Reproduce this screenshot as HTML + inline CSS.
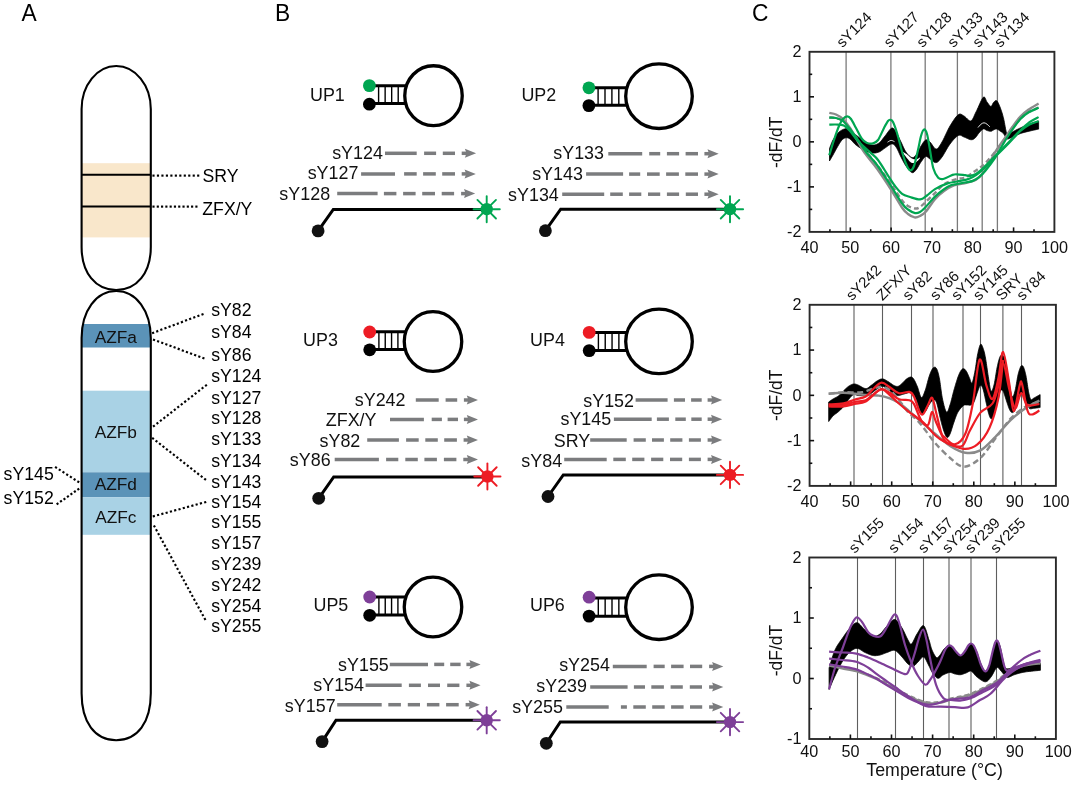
<!DOCTYPE html><html><head><meta charset="utf-8"><style>html,body{margin:0;padding:0;background:#fff;}svg{display:block;will-change:transform;}text{font-family:"Liberation Sans", sans-serif;}</style></head><body>
<svg width="1080" height="793" viewBox="0 0 1080 793">
<rect width="1080" height="793" fill="#fff"/>
<text x="0" y="0" font-size="22.8" fill="#000" transform="translate(21.5,20.8) scale(1,1.035)">A</text>
<text x="0" y="0" font-size="22.8" fill="#000" transform="translate(275,21.1) scale(1,1.035)">B</text>
<text x="0" y="0" font-size="22.8" fill="#000" transform="translate(751.9,21.2) scale(1,1.035)">C</text>
<defs><clipPath id="ctop"><path d="M81.6,109 L81.6,247 C81.6,272.8 95.44,290 116.2,290 C136.96,290 150.8,272.8 150.8,247 L150.8,109 C150.8,85.25 135.31,66 116.2,66 C97.09,66 81.6,85.25 81.6,109 Z"/></clipPath><clipPath id="cbot"><path d="M81.6,338 L81.6,693.2 C81.6,722.34 94.75,740.2 116.2,740.2 C137.65,740.2 150.8,722.34 150.8,693.2 L150.8,338 C150.8,310.74 136.27,291 116.2,291 C96.13,291 81.6,310.74 81.6,338 Z"/></clipPath></defs>
<path d="M81.6,109 L81.6,247 C81.6,272.8 95.44,290 116.2,290 C136.96,290 150.8,272.8 150.8,247 L150.8,109 C150.8,85.25 135.31,66 116.2,66 C97.09,66 81.6,85.25 81.6,109 Z" fill="#fff"/>
<path d="M81.6,338 L81.6,693.2 C81.6,722.34 94.75,740.2 116.2,740.2 C137.65,740.2 150.8,722.34 150.8,693.2 L150.8,338 C150.8,310.74 136.27,291 116.2,291 C96.13,291 81.6,310.74 81.6,338 Z" fill="#fff"/>
<g clip-path="url(#ctop)"><rect x="80" y="163.2" width="72" height="74.2" fill="#F9E7CB"/></g>
<g clip-path="url(#cbot)">
<rect x="80" y="324" width="72" height="23.5" fill="#5B93B8"/>
<rect x="80" y="390.7" width="72" height="81.6" fill="#A9D2E5"/>
<rect x="80" y="472.3" width="72" height="25" fill="#5B93B8"/>
<rect x="80" y="497.3" width="72" height="37.5" fill="#A9D2E5"/>
</g>
<line x1="81.6" y1="174.8" x2="150.8" y2="174.8" stroke="#000" stroke-width="2"/>
<line x1="81.6" y1="206.4" x2="150.8" y2="206.4" stroke="#000" stroke-width="2"/>
<path d="M81.6,109 L81.6,247 C81.6,272.8 95.44,290 116.2,290 C136.96,290 150.8,272.8 150.8,247 L150.8,109 C150.8,85.25 135.31,66 116.2,66 C97.09,66 81.6,85.25 81.6,109 Z" fill="none" stroke="#000" stroke-width="2.1"/>
<path d="M81.6,338 L81.6,693.2 C81.6,722.34 94.75,740.2 116.2,740.2 C137.65,740.2 150.8,722.34 150.8,693.2 L150.8,338 C150.8,310.74 136.27,291 116.2,291 C96.13,291 81.6,310.74 81.6,338 Z" fill="none" stroke="#000" stroke-width="2.1"/>
<text x="115.8" y="342.5" font-size="17.3" text-anchor="middle" fill="#111" >AZFa</text>
<text x="115.8" y="437.8" font-size="17.3" text-anchor="middle" fill="#111" >AZFb</text>
<text x="115.8" y="490.3" font-size="17.3" text-anchor="middle" fill="#111" >AZFd</text>
<text x="115.8" y="522.5" font-size="17.3" text-anchor="middle" fill="#111" >AZFc</text>
<g fill="#000"><rect x="152.43" y="174.53" width="2.15" height="2.15" transform="rotate(0 153.5 175.6)"/><rect x="156.9" y="174.53" width="2.15" height="2.15" transform="rotate(0 157.97 175.6)"/><rect x="161.37" y="174.53" width="2.15" height="2.15" transform="rotate(0 162.44 175.6)"/><rect x="165.84" y="174.53" width="2.15" height="2.15" transform="rotate(0 166.91 175.6)"/><rect x="170.31" y="174.53" width="2.15" height="2.15" transform="rotate(0 171.38 175.6)"/><rect x="174.78" y="174.53" width="2.15" height="2.15" transform="rotate(0 175.85 175.6)"/><rect x="179.25" y="174.53" width="2.15" height="2.15" transform="rotate(0 180.32 175.6)"/><rect x="183.72" y="174.53" width="2.15" height="2.15" transform="rotate(0 184.79 175.6)"/><rect x="188.19" y="174.53" width="2.15" height="2.15" transform="rotate(0 189.26 175.6)"/><rect x="192.66" y="174.53" width="2.15" height="2.15" transform="rotate(0 193.73 175.6)"/><rect x="197.12" y="174.53" width="2.15" height="2.15" transform="rotate(0 198.2 175.6)"/></g>
<g fill="#000"><rect x="152.43" y="205.53" width="2.15" height="2.15" transform="rotate(0 153.5 206.6)"/><rect x="156.72" y="205.53" width="2.15" height="2.15" transform="rotate(0 157.79 206.6)"/><rect x="161.01" y="205.53" width="2.15" height="2.15" transform="rotate(0 162.08 206.6)"/><rect x="165.3" y="205.53" width="2.15" height="2.15" transform="rotate(0 166.37 206.6)"/><rect x="169.59" y="205.53" width="2.15" height="2.15" transform="rotate(0 170.66 206.6)"/><rect x="173.88" y="205.53" width="2.15" height="2.15" transform="rotate(0 174.95 206.6)"/><rect x="178.17" y="205.53" width="2.15" height="2.15" transform="rotate(0 179.24 206.6)"/><rect x="182.46" y="205.53" width="2.15" height="2.15" transform="rotate(0 183.53 206.6)"/><rect x="186.75" y="205.53" width="2.15" height="2.15" transform="rotate(0 187.82 206.6)"/><rect x="191.04" y="205.53" width="2.15" height="2.15" transform="rotate(0 192.11 206.6)"/><rect x="195.33" y="205.53" width="2.15" height="2.15" transform="rotate(0 196.4 206.6)"/></g>
<text x="202.4" y="181.5" font-size="17.7" text-anchor="start" fill="#000" >SRY</text>
<text x="202.3" y="214.9" font-size="17.7" text-anchor="start" fill="#000" >ZFX/Y</text>
<g fill="#000"><rect x="152.03" y="331.73" width="2.15" height="2.15" transform="rotate(-20.53 153.1 332.8)"/><rect x="156.14" y="330.18" width="2.15" height="2.15" transform="rotate(-20.53 157.22 331.26)"/><rect x="160.26" y="328.64" width="2.15" height="2.15" transform="rotate(-20.53 161.33 329.72)"/><rect x="164.38" y="327.1" width="2.15" height="2.15" transform="rotate(-20.53 165.45 328.18)"/><rect x="168.49" y="325.56" width="2.15" height="2.15" transform="rotate(-20.53 169.57 326.63)"/><rect x="172.61" y="324.02" width="2.15" height="2.15" transform="rotate(-20.53 173.68 325.09)"/><rect x="176.73" y="322.48" width="2.15" height="2.15" transform="rotate(-20.53 177.8 323.55)"/><rect x="180.84" y="320.93" width="2.15" height="2.15" transform="rotate(-20.53 181.92 322.01)"/><rect x="184.96" y="319.39" width="2.15" height="2.15" transform="rotate(-20.53 186.03 320.47)"/><rect x="189.08" y="317.85" width="2.15" height="2.15" transform="rotate(-20.53 190.15 318.93)"/><rect x="193.19" y="316.31" width="2.15" height="2.15" transform="rotate(-20.53 194.27 317.38)"/><rect x="197.31" y="314.77" width="2.15" height="2.15" transform="rotate(-20.53 198.38 315.84)"/><rect x="201.43" y="313.23" width="2.15" height="2.15" transform="rotate(-20.53 202.5 314.3)"/></g>
<g fill="#000"><rect x="152.93" y="338.82" width="2.15" height="2.15" transform="rotate(20.22 154 339.9)"/><rect x="157.04" y="340.34" width="2.15" height="2.15" transform="rotate(20.22 158.12 341.42)"/><rect x="161.16" y="341.86" width="2.15" height="2.15" transform="rotate(20.22 162.23 342.93)"/><rect x="165.28" y="343.38" width="2.15" height="2.15" transform="rotate(20.22 166.35 344.45)"/><rect x="169.39" y="344.89" width="2.15" height="2.15" transform="rotate(20.22 170.47 345.97)"/><rect x="173.51" y="346.41" width="2.15" height="2.15" transform="rotate(20.22 174.58 347.48)"/><rect x="177.62" y="347.93" width="2.15" height="2.15" transform="rotate(20.22 178.7 349)"/><rect x="181.74" y="349.44" width="2.15" height="2.15" transform="rotate(20.22 182.82 350.52)"/><rect x="185.86" y="350.96" width="2.15" height="2.15" transform="rotate(20.22 186.93 352.03)"/><rect x="189.98" y="352.48" width="2.15" height="2.15" transform="rotate(20.22 191.05 353.55)"/><rect x="194.09" y="353.99" width="2.15" height="2.15" transform="rotate(20.22 195.17 355.07)"/><rect x="198.21" y="355.51" width="2.15" height="2.15" transform="rotate(20.22 199.28 356.58)"/><rect x="202.33" y="357.03" width="2.15" height="2.15" transform="rotate(20.22 203.4 358.1)"/></g>
<g fill="#000"><rect x="152.83" y="424.93" width="2.15" height="2.15" transform="rotate(-37.93 153.9 426)"/><rect x="156.3" y="422.22" width="2.15" height="2.15" transform="rotate(-37.93 157.37 423.29)"/><rect x="159.77" y="419.51" width="2.15" height="2.15" transform="rotate(-37.93 160.85 420.59)"/><rect x="163.25" y="416.81" width="2.15" height="2.15" transform="rotate(-37.93 164.32 417.88)"/><rect x="166.72" y="414.1" width="2.15" height="2.15" transform="rotate(-37.93 167.79 415.17)"/><rect x="170.19" y="411.39" width="2.15" height="2.15" transform="rotate(-37.93 171.27 412.47)"/><rect x="173.67" y="408.69" width="2.15" height="2.15" transform="rotate(-37.93 174.74 409.76)"/><rect x="177.14" y="405.98" width="2.15" height="2.15" transform="rotate(-37.93 178.21 407.05)"/><rect x="180.61" y="403.27" width="2.15" height="2.15" transform="rotate(-37.93 181.69 404.35)"/><rect x="184.09" y="400.56" width="2.15" height="2.15" transform="rotate(-37.93 185.16 401.64)"/><rect x="187.56" y="397.86" width="2.15" height="2.15" transform="rotate(-37.93 188.63 398.93)"/><rect x="191.03" y="395.15" width="2.15" height="2.15" transform="rotate(-37.93 192.11 396.23)"/><rect x="194.51" y="392.44" width="2.15" height="2.15" transform="rotate(-37.93 195.58 393.52)"/><rect x="197.98" y="389.74" width="2.15" height="2.15" transform="rotate(-37.93 199.05 390.81)"/><rect x="201.45" y="387.03" width="2.15" height="2.15" transform="rotate(-37.93 202.53 388.11)"/><rect x="204.93" y="384.32" width="2.15" height="2.15" transform="rotate(-37.93 206 385.4)"/></g>
<g fill="#000"><rect x="151.93" y="437.43" width="2.15" height="2.15" transform="rotate(38.06 153 438.5)"/><rect x="155.4" y="440.15" width="2.15" height="2.15" transform="rotate(38.06 156.47 441.22)"/><rect x="158.87" y="442.87" width="2.15" height="2.15" transform="rotate(38.06 159.95 443.94)"/><rect x="162.34" y="445.59" width="2.15" height="2.15" transform="rotate(38.06 163.42 446.66)"/><rect x="165.82" y="448.31" width="2.15" height="2.15" transform="rotate(38.06 166.89 449.38)"/><rect x="169.29" y="451.03" width="2.15" height="2.15" transform="rotate(38.06 170.37 452.1)"/><rect x="172.77" y="453.75" width="2.15" height="2.15" transform="rotate(38.06 173.84 454.82)"/><rect x="176.24" y="456.47" width="2.15" height="2.15" transform="rotate(38.06 177.31 457.54)"/><rect x="179.71" y="459.19" width="2.15" height="2.15" transform="rotate(38.06 180.79 460.26)"/><rect x="183.19" y="461.91" width="2.15" height="2.15" transform="rotate(38.06 184.26 462.98)"/><rect x="186.66" y="464.62" width="2.15" height="2.15" transform="rotate(38.06 187.73 465.7)"/><rect x="190.13" y="467.35" width="2.15" height="2.15" transform="rotate(38.06 191.21 468.42)"/><rect x="193.61" y="470.06" width="2.15" height="2.15" transform="rotate(38.06 194.68 471.14)"/><rect x="197.08" y="472.79" width="2.15" height="2.15" transform="rotate(38.06 198.15 473.86)"/><rect x="200.55" y="475.51" width="2.15" height="2.15" transform="rotate(38.06 201.63 476.58)"/><rect x="204.03" y="478.23" width="2.15" height="2.15" transform="rotate(38.06 205.1 479.3)"/></g>
<g fill="#000"><rect x="152.73" y="515.12" width="2.15" height="2.15" transform="rotate(-15.24 153.8 516.2)"/><rect x="157.01" y="513.96" width="2.15" height="2.15" transform="rotate(-15.24 158.08 515.03)"/><rect x="161.29" y="512.79" width="2.15" height="2.15" transform="rotate(-15.24 162.37 513.87)"/><rect x="165.58" y="511.63" width="2.15" height="2.15" transform="rotate(-15.24 166.65 512.7)"/><rect x="169.86" y="510.46" width="2.15" height="2.15" transform="rotate(-15.24 170.93 511.53)"/><rect x="174.14" y="509.29" width="2.15" height="2.15" transform="rotate(-15.24 175.22 510.37)"/><rect x="178.43" y="508.13" width="2.15" height="2.15" transform="rotate(-15.24 179.5 509.2)"/><rect x="182.71" y="506.96" width="2.15" height="2.15" transform="rotate(-15.24 183.78 508.03)"/><rect x="186.99" y="505.79" width="2.15" height="2.15" transform="rotate(-15.24 188.07 506.87)"/><rect x="191.28" y="504.62" width="2.15" height="2.15" transform="rotate(-15.24 192.35 505.7)"/><rect x="195.56" y="503.46" width="2.15" height="2.15" transform="rotate(-15.24 196.63 504.53)"/><rect x="199.84" y="502.29" width="2.15" height="2.15" transform="rotate(-15.24 200.92 503.37)"/><rect x="204.12" y="501.12" width="2.15" height="2.15" transform="rotate(-15.24 205.2 502.2)"/></g>
<g fill="#000"><rect x="153.33" y="525.32" width="2.15" height="2.15" transform="rotate(61.39 154.4 526.4)"/><rect x="155.43" y="529.18" width="2.15" height="2.15" transform="rotate(61.39 156.5 530.26)"/><rect x="157.53" y="533.04" width="2.15" height="2.15" transform="rotate(61.39 158.61 534.12)"/><rect x="159.64" y="536.9" width="2.15" height="2.15" transform="rotate(61.39 160.71 537.98)"/><rect x="161.74" y="540.76" width="2.15" height="2.15" transform="rotate(61.39 162.82 541.83)"/><rect x="163.85" y="544.62" width="2.15" height="2.15" transform="rotate(61.39 164.92 545.69)"/><rect x="165.95" y="548.47" width="2.15" height="2.15" transform="rotate(61.39 167.03 549.55)"/><rect x="168.05" y="552.33" width="2.15" height="2.15" transform="rotate(61.39 169.13 553.41)"/><rect x="170.16" y="556.19" width="2.15" height="2.15" transform="rotate(61.39 171.23 557.27)"/><rect x="172.26" y="560.05" width="2.15" height="2.15" transform="rotate(61.39 173.34 561.12)"/><rect x="174.37" y="563.91" width="2.15" height="2.15" transform="rotate(61.39 175.44 564.98)"/><rect x="176.47" y="567.77" width="2.15" height="2.15" transform="rotate(61.39 177.55 568.84)"/><rect x="178.58" y="571.62" width="2.15" height="2.15" transform="rotate(61.39 179.65 572.7)"/><rect x="180.68" y="575.48" width="2.15" height="2.15" transform="rotate(61.39 181.75 576.56)"/><rect x="182.78" y="579.34" width="2.15" height="2.15" transform="rotate(61.39 183.86 580.42)"/><rect x="184.89" y="583.2" width="2.15" height="2.15" transform="rotate(61.39 185.96 584.27)"/><rect x="186.99" y="587.06" width="2.15" height="2.15" transform="rotate(61.39 188.07 588.13)"/><rect x="189.1" y="590.92" width="2.15" height="2.15" transform="rotate(61.39 190.17 591.99)"/><rect x="191.2" y="594.77" width="2.15" height="2.15" transform="rotate(61.39 192.28 595.85)"/><rect x="193.3" y="598.63" width="2.15" height="2.15" transform="rotate(61.39 194.38 599.71)"/><rect x="195.41" y="602.49" width="2.15" height="2.15" transform="rotate(61.39 196.48 603.57)"/><rect x="197.51" y="606.35" width="2.15" height="2.15" transform="rotate(61.39 198.59 607.42)"/><rect x="199.62" y="610.21" width="2.15" height="2.15" transform="rotate(61.39 200.69 611.28)"/><rect x="201.72" y="614.07" width="2.15" height="2.15" transform="rotate(61.39 202.8 615.14)"/><rect x="203.83" y="617.92" width="2.15" height="2.15" transform="rotate(61.39 204.9 619)"/></g>
<g fill="#000"><rect x="54.92" y="466.43" width="2.15" height="2.15" transform="rotate(32.67 56 467.5)"/><rect x="58.64" y="468.81" width="2.15" height="2.15" transform="rotate(32.67 59.72 469.88)"/><rect x="62.36" y="471.19" width="2.15" height="2.15" transform="rotate(32.67 63.43 472.27)"/><rect x="66.08" y="473.57" width="2.15" height="2.15" transform="rotate(32.67 67.15 474.65)"/><rect x="69.79" y="475.96" width="2.15" height="2.15" transform="rotate(32.67 70.87 477.03)"/><rect x="73.51" y="478.34" width="2.15" height="2.15" transform="rotate(32.67 74.58 479.42)"/><rect x="77.22" y="480.73" width="2.15" height="2.15" transform="rotate(32.67 78.3 481.8)"/></g>
<g fill="#000"><rect x="56.42" y="502.68" width="2.15" height="2.15" transform="rotate(-34.97 57.5 503.75)"/><rect x="59.89" y="500.25" width="2.15" height="2.15" transform="rotate(-34.97 60.97 501.32)"/><rect x="63.36" y="497.82" width="2.15" height="2.15" transform="rotate(-34.97 64.43 498.9)"/><rect x="66.83" y="495.4" width="2.15" height="2.15" transform="rotate(-34.97 67.9 496.48)"/><rect x="70.29" y="492.98" width="2.15" height="2.15" transform="rotate(-34.97 71.37 494.05)"/><rect x="73.76" y="490.55" width="2.15" height="2.15" transform="rotate(-34.97 74.83 491.62)"/><rect x="77.22" y="488.12" width="2.15" height="2.15" transform="rotate(-34.97 78.3 489.2)"/></g>
<text x="211.2" y="315.6" font-size="17.7" text-anchor="start" fill="#000" >sY82</text>
<text x="211.2" y="338" font-size="17.7" text-anchor="start" fill="#000" >sY84</text>
<text x="211.2" y="360.7" font-size="17.7" text-anchor="start" fill="#000" >sY86</text>
<text x="211.2" y="382.4" font-size="17.7" text-anchor="start" fill="#000" >sY124</text>
<text x="211.2" y="403.6" font-size="17.7" text-anchor="start" fill="#000" >sY127</text>
<text x="211.2" y="424.4" font-size="17.7" text-anchor="start" fill="#000" >sY128</text>
<text x="211.2" y="445.2" font-size="17.7" text-anchor="start" fill="#000" >sY133</text>
<text x="211.2" y="466.6" font-size="17.7" text-anchor="start" fill="#000" >sY134</text>
<text x="211.2" y="487.5" font-size="17.7" text-anchor="start" fill="#000" >sY143</text>
<text x="211.2" y="508" font-size="17.7" text-anchor="start" fill="#000" >sY154</text>
<text x="211.2" y="528.2" font-size="17.7" text-anchor="start" fill="#000" >sY155</text>
<text x="211.2" y="548.9" font-size="17.7" text-anchor="start" fill="#000" >sY157</text>
<text x="211.2" y="569.7" font-size="17.7" text-anchor="start" fill="#000" >sY239</text>
<text x="211.2" y="590.5" font-size="17.7" text-anchor="start" fill="#000" >sY242</text>
<text x="211.2" y="611.5" font-size="17.7" text-anchor="start" fill="#000" >sY254</text>
<text x="211.2" y="632" font-size="17.7" text-anchor="start" fill="#000" >sY255</text>
<text x="3.6" y="480" font-size="17.7" text-anchor="start" fill="#000" >sY145</text>
<text x="3.6" y="503.6" font-size="17.7" text-anchor="start" fill="#000" >sY152</text>
<text x="310" y="100.6" font-size="17.9" text-anchor="start" fill="#111" >UP1</text>
<line x1="369.4" y1="85.8" x2="406.75" y2="85.8" stroke="#000" stroke-width="3"/>
<line x1="369.4" y1="103.6" x2="406.75" y2="103.6" stroke="#000" stroke-width="3"/>
<line x1="378.6" y1="85.8" x2="378.6" y2="103.6" stroke="#000" stroke-width="1.4"/>
<line x1="385.14" y1="85.8" x2="385.14" y2="103.6" stroke="#000" stroke-width="1.4"/>
<line x1="391.67" y1="85.8" x2="391.67" y2="103.6" stroke="#000" stroke-width="1.4"/>
<line x1="398.21" y1="85.8" x2="398.21" y2="103.6" stroke="#000" stroke-width="1.4"/>
<ellipse cx="433.5" cy="95.65" rx="28.75" ry="29.9" fill="none" stroke="#000" stroke-width="3.3"/>
<circle cx="369.4" cy="85.6" r="6.4" fill="#00A651"/>
<circle cx="369.4" cy="104.2" r="6.4" fill="#000"/>
<text x="382.9" y="158.9" font-size="17.9" text-anchor="end" fill="#111" >sY124</text>
<line x1="385" y1="153.3" x2="416.7" y2="153.3" stroke="#7b7c7e" stroke-width="3.5"/>
<line x1="424.1" y1="153.3" x2="436.1" y2="153.3" stroke="#7b7c7e" stroke-width="3.5"/>
<line x1="442.8" y1="153.3" x2="455" y2="153.3" stroke="#7b7c7e" stroke-width="3.5"/>
<line x1="461.7" y1="153.3" x2="467.1" y2="153.3" stroke="#7b7c7e" stroke-width="3.5"/>
<path d="M476.1,153.3 L464.9,148.8 L466.5,153.3 L464.9,157.8 Z" fill="#7b7c7e"/>
<text x="358.4" y="178.9" font-size="17.9" text-anchor="end" fill="#111" >sY127</text>
<line x1="361.1" y1="173.9" x2="395" y2="173.9" stroke="#7b7c7e" stroke-width="3.5"/>
<line x1="404.1" y1="173.9" x2="416.7" y2="173.9" stroke="#7b7c7e" stroke-width="3.5"/>
<line x1="423.1" y1="173.9" x2="435.8" y2="173.9" stroke="#7b7c7e" stroke-width="3.5"/>
<line x1="442.2" y1="173.9" x2="455" y2="173.9" stroke="#7b7c7e" stroke-width="3.5"/>
<line x1="461.7" y1="173.9" x2="466.8" y2="173.9" stroke="#7b7c7e" stroke-width="3.5"/>
<path d="M475.8,173.9 L464.6,169.4 L466.2,173.9 L464.6,178.4 Z" fill="#7b7c7e"/>
<text x="330.1" y="200.2" font-size="17.9" text-anchor="end" fill="#111" >sY128</text>
<line x1="337.2" y1="193.6" x2="377.6" y2="193.6" stroke="#7b7c7e" stroke-width="3.5"/>
<line x1="383.9" y1="193.6" x2="396.4" y2="193.6" stroke="#7b7c7e" stroke-width="3.5"/>
<line x1="403.1" y1="193.6" x2="415.6" y2="193.6" stroke="#7b7c7e" stroke-width="3.5"/>
<line x1="422.2" y1="193.6" x2="435" y2="193.6" stroke="#7b7c7e" stroke-width="3.5"/>
<line x1="441.7" y1="193.6" x2="454.1" y2="193.6" stroke="#7b7c7e" stroke-width="3.5"/>
<line x1="461.1" y1="193.6" x2="466.2" y2="193.6" stroke="#7b7c7e" stroke-width="3.5"/>
<path d="M475.2,193.6 L464,189.1 L465.6,193.6 L464,198.1 Z" fill="#7b7c7e"/>
<polyline points="318.1,230.9 333.3,209.4 486.7,209.4" fill="none" stroke="#000" stroke-width="3" stroke-linejoin="miter"/>
<circle cx="318.1" cy="230.9" r="6.4" fill="#111"/>
<line x1="486.7" y1="209.2" x2="499.8" y2="209.2" stroke="#00A651" stroke-width="1.9" stroke-linecap="round"/><line x1="486.7" y1="209.2" x2="495.96" y2="218.46" stroke="#00A651" stroke-width="1.9" stroke-linecap="round"/><line x1="486.7" y1="209.2" x2="486.7" y2="222.3" stroke="#00A651" stroke-width="1.9" stroke-linecap="round"/><line x1="486.7" y1="209.2" x2="477.44" y2="218.46" stroke="#00A651" stroke-width="1.9" stroke-linecap="round"/><line x1="486.7" y1="209.2" x2="473.6" y2="209.2" stroke="#00A651" stroke-width="1.9" stroke-linecap="round"/><line x1="486.7" y1="209.2" x2="477.44" y2="199.94" stroke="#00A651" stroke-width="1.9" stroke-linecap="round"/><line x1="486.7" y1="209.2" x2="486.7" y2="196.1" stroke="#00A651" stroke-width="1.9" stroke-linecap="round"/><line x1="486.7" y1="209.2" x2="495.96" y2="199.94" stroke="#00A651" stroke-width="1.9" stroke-linecap="round"/>
<circle cx="486.7" cy="209.2" r="6.2" fill="#00A651"/>
<text x="521.4" y="101" font-size="17.9" text-anchor="start" fill="#111" >UP2</text>
<line x1="588.9" y1="87.8" x2="627.7" y2="87.8" stroke="#000" stroke-width="3"/>
<line x1="588.9" y1="105.3" x2="627.7" y2="105.3" stroke="#000" stroke-width="3"/>
<line x1="598.1" y1="87.8" x2="598.1" y2="105.3" stroke="#000" stroke-width="1.4"/>
<line x1="605" y1="87.8" x2="605" y2="105.3" stroke="#000" stroke-width="1.4"/>
<line x1="611.9" y1="87.8" x2="611.9" y2="105.3" stroke="#000" stroke-width="1.4"/>
<line x1="618.8" y1="87.8" x2="618.8" y2="105.3" stroke="#000" stroke-width="1.4"/>
<ellipse cx="659" cy="96.2" rx="33.3" ry="32.3" fill="none" stroke="#000" stroke-width="3.3"/>
<circle cx="588.9" cy="87.8" r="6.4" fill="#00A651"/>
<circle cx="588.9" cy="105.6" r="6.4" fill="#000"/>
<text x="604" y="158.7" font-size="17.9" text-anchor="end" fill="#111" >sY133</text>
<line x1="608.3" y1="153.7" x2="642.2" y2="153.7" stroke="#7b7c7e" stroke-width="3.5"/>
<line x1="649.2" y1="153.7" x2="660.2" y2="153.7" stroke="#7b7c7e" stroke-width="3.5"/>
<line x1="666.9" y1="153.7" x2="679.1" y2="153.7" stroke="#7b7c7e" stroke-width="3.5"/>
<line x1="685.6" y1="153.7" x2="698" y2="153.7" stroke="#7b7c7e" stroke-width="3.5"/>
<line x1="704.4" y1="153.7" x2="709.7" y2="153.7" stroke="#7b7c7e" stroke-width="3.5"/>
<path d="M718.7,153.7 L707.5,149.2 L709.1,153.7 L707.5,158.2 Z" fill="#7b7c7e"/>
<text x="582.9" y="180.2" font-size="17.9" text-anchor="end" fill="#111" >sY143</text>
<line x1="586.1" y1="174.1" x2="623.1" y2="174.1" stroke="#7b7c7e" stroke-width="3.5"/>
<line x1="629.1" y1="174.1" x2="640.2" y2="174.1" stroke="#7b7c7e" stroke-width="3.5"/>
<line x1="647" y1="174.1" x2="659.7" y2="174.1" stroke="#7b7c7e" stroke-width="3.5"/>
<line x1="666.1" y1="174.1" x2="678.9" y2="174.1" stroke="#7b7c7e" stroke-width="3.5"/>
<line x1="685.3" y1="174.1" x2="698" y2="174.1" stroke="#7b7c7e" stroke-width="3.5"/>
<line x1="704.4" y1="174.1" x2="709.7" y2="174.1" stroke="#7b7c7e" stroke-width="3.5"/>
<path d="M718.7,174.1 L707.5,169.6 L709.1,174.1 L707.5,178.6 Z" fill="#7b7c7e"/>
<text x="558.8" y="200.8" font-size="17.9" text-anchor="end" fill="#111" >sY134</text>
<line x1="562.2" y1="194.2" x2="604.2" y2="194.2" stroke="#7b7c7e" stroke-width="3.5"/>
<line x1="610.2" y1="194.2" x2="622.8" y2="194.2" stroke="#7b7c7e" stroke-width="3.5"/>
<line x1="629.1" y1="194.2" x2="641.3" y2="194.2" stroke="#7b7c7e" stroke-width="3.5"/>
<line x1="648" y1="194.2" x2="660.2" y2="194.2" stroke="#7b7c7e" stroke-width="3.5"/>
<line x1="666.9" y1="194.2" x2="679.1" y2="194.2" stroke="#7b7c7e" stroke-width="3.5"/>
<line x1="685.8" y1="194.2" x2="698" y2="194.2" stroke="#7b7c7e" stroke-width="3.5"/>
<line x1="704.4" y1="194.2" x2="709.7" y2="194.2" stroke="#7b7c7e" stroke-width="3.5"/>
<path d="M718.7,194.2 L707.5,189.7 L709.1,194.2 L707.5,198.7 Z" fill="#7b7c7e"/>
<polyline points="545.4,230.7 560.7,209.2 730,209.2" fill="none" stroke="#000" stroke-width="3" stroke-linejoin="miter"/>
<circle cx="545.4" cy="230.7" r="6.4" fill="#111"/>
<line x1="730" y1="209.2" x2="743.1" y2="209.2" stroke="#00A651" stroke-width="1.9" stroke-linecap="round"/><line x1="730" y1="209.2" x2="739.26" y2="218.46" stroke="#00A651" stroke-width="1.9" stroke-linecap="round"/><line x1="730" y1="209.2" x2="730" y2="222.3" stroke="#00A651" stroke-width="1.9" stroke-linecap="round"/><line x1="730" y1="209.2" x2="720.74" y2="218.46" stroke="#00A651" stroke-width="1.9" stroke-linecap="round"/><line x1="730" y1="209.2" x2="716.9" y2="209.2" stroke="#00A651" stroke-width="1.9" stroke-linecap="round"/><line x1="730" y1="209.2" x2="720.74" y2="199.94" stroke="#00A651" stroke-width="1.9" stroke-linecap="round"/><line x1="730" y1="209.2" x2="730" y2="196.1" stroke="#00A651" stroke-width="1.9" stroke-linecap="round"/><line x1="730" y1="209.2" x2="739.26" y2="199.94" stroke="#00A651" stroke-width="1.9" stroke-linecap="round"/>
<circle cx="730" cy="209.2" r="6.2" fill="#00A651"/>
<text x="303.1" y="345.8" font-size="17.9" text-anchor="start" fill="#111" >UP3</text>
<line x1="369.7" y1="331.7" x2="406.25" y2="331.7" stroke="#000" stroke-width="3"/>
<line x1="369.7" y1="349.4" x2="406.25" y2="349.4" stroke="#000" stroke-width="3"/>
<line x1="378.9" y1="331.7" x2="378.9" y2="349.4" stroke="#000" stroke-width="1.4"/>
<line x1="385.24" y1="331.7" x2="385.24" y2="349.4" stroke="#000" stroke-width="1.4"/>
<line x1="391.57" y1="331.7" x2="391.57" y2="349.4" stroke="#000" stroke-width="1.4"/>
<line x1="397.91" y1="331.7" x2="397.91" y2="349.4" stroke="#000" stroke-width="1.4"/>
<ellipse cx="433" cy="341.5" rx="28.75" ry="29.9" fill="none" stroke="#000" stroke-width="3.3"/>
<circle cx="369.7" cy="332" r="6.4" fill="#ED1C24"/>
<circle cx="369.7" cy="349.8" r="6.4" fill="#000"/>
<text x="405.5" y="405.8" font-size="17.9" text-anchor="end" fill="#111" >sY242</text>
<line x1="415.8" y1="400" x2="438.7" y2="400" stroke="#7b7c7e" stroke-width="3.5"/>
<line x1="445.6" y1="400" x2="457.2" y2="400" stroke="#7b7c7e" stroke-width="3.5"/>
<line x1="463.9" y1="400" x2="469" y2="400" stroke="#7b7c7e" stroke-width="3.5"/>
<path d="M478,400 L466.8,395.5 L468.4,400 L466.8,404.5 Z" fill="#7b7c7e"/>
<text x="376.5" y="426.3" font-size="17.9" text-anchor="end" fill="#111" >ZFX/Y</text>
<line x1="390" y1="419.4" x2="423.9" y2="419.4" stroke="#7b7c7e" stroke-width="3.5"/>
<line x1="431.7" y1="419.4" x2="441.9" y2="419.4" stroke="#7b7c7e" stroke-width="3.5"/>
<line x1="447.6" y1="419.4" x2="458" y2="419.4" stroke="#7b7c7e" stroke-width="3.5"/>
<line x1="463.9" y1="419.4" x2="469" y2="419.4" stroke="#7b7c7e" stroke-width="3.5"/>
<path d="M478,419.4 L466.8,414.9 L468.4,419.4 L466.8,423.9 Z" fill="#7b7c7e"/>
<text x="360.3" y="446.7" font-size="17.9" text-anchor="end" fill="#111" >sY82</text>
<line x1="367.2" y1="440" x2="398.9" y2="440" stroke="#7b7c7e" stroke-width="3.5"/>
<line x1="406.1" y1="440" x2="418.7" y2="440" stroke="#7b7c7e" stroke-width="3.5"/>
<line x1="425.3" y1="440" x2="437.8" y2="440" stroke="#7b7c7e" stroke-width="3.5"/>
<line x1="444.2" y1="440" x2="456.9" y2="440" stroke="#7b7c7e" stroke-width="3.5"/>
<line x1="463.6" y1="440" x2="469" y2="440" stroke="#7b7c7e" stroke-width="3.5"/>
<path d="M478,440 L466.8,435.5 L468.4,440 L466.8,444.5 Z" fill="#7b7c7e"/>
<text x="330.6" y="466.1" font-size="17.9" text-anchor="end" fill="#111" >sY86</text>
<line x1="334.7" y1="459.5" x2="378.9" y2="459.5" stroke="#7b7c7e" stroke-width="3.5"/>
<line x1="386.1" y1="459.5" x2="398.3" y2="459.5" stroke="#7b7c7e" stroke-width="3.5"/>
<line x1="405.3" y1="459.5" x2="417.8" y2="459.5" stroke="#7b7c7e" stroke-width="3.5"/>
<line x1="424.4" y1="459.5" x2="436.9" y2="459.5" stroke="#7b7c7e" stroke-width="3.5"/>
<line x1="443.9" y1="459.5" x2="456.4" y2="459.5" stroke="#7b7c7e" stroke-width="3.5"/>
<line x1="463.3" y1="459.5" x2="469" y2="459.5" stroke="#7b7c7e" stroke-width="3.5"/>
<path d="M478,459.5 L466.8,455 L468.4,459.5 L466.8,464 Z" fill="#7b7c7e"/>
<polyline points="318.7,498.3 333.7,476.9 487.4,476.9" fill="none" stroke="#000" stroke-width="3" stroke-linejoin="miter"/>
<circle cx="318.7" cy="498.3" r="6.4" fill="#111"/>
<line x1="487.4" y1="476.5" x2="500.5" y2="476.5" stroke="#ED1C24" stroke-width="1.9" stroke-linecap="round"/><line x1="487.4" y1="476.5" x2="496.66" y2="485.76" stroke="#ED1C24" stroke-width="1.9" stroke-linecap="round"/><line x1="487.4" y1="476.5" x2="487.4" y2="489.6" stroke="#ED1C24" stroke-width="1.9" stroke-linecap="round"/><line x1="487.4" y1="476.5" x2="478.14" y2="485.76" stroke="#ED1C24" stroke-width="1.9" stroke-linecap="round"/><line x1="487.4" y1="476.5" x2="474.3" y2="476.5" stroke="#ED1C24" stroke-width="1.9" stroke-linecap="round"/><line x1="487.4" y1="476.5" x2="478.14" y2="467.24" stroke="#ED1C24" stroke-width="1.9" stroke-linecap="round"/><line x1="487.4" y1="476.5" x2="487.4" y2="463.4" stroke="#ED1C24" stroke-width="1.9" stroke-linecap="round"/><line x1="487.4" y1="476.5" x2="496.66" y2="467.24" stroke="#ED1C24" stroke-width="1.9" stroke-linecap="round"/>
<circle cx="487.4" cy="476.5" r="6.2" fill="#ED1C24"/>
<text x="530.1" y="345.8" font-size="17.9" text-anchor="start" fill="#111" >UP4</text>
<line x1="589.2" y1="332.6" x2="627.7" y2="332.6" stroke="#000" stroke-width="3"/>
<line x1="589.2" y1="350.6" x2="627.7" y2="350.6" stroke="#000" stroke-width="3"/>
<line x1="598.4" y1="332.6" x2="598.4" y2="350.6" stroke="#000" stroke-width="1.4"/>
<line x1="605.23" y1="332.6" x2="605.23" y2="350.6" stroke="#000" stroke-width="1.4"/>
<line x1="612.05" y1="332.6" x2="612.05" y2="350.6" stroke="#000" stroke-width="1.4"/>
<line x1="618.88" y1="332.6" x2="618.88" y2="350.6" stroke="#000" stroke-width="1.4"/>
<ellipse cx="659" cy="341.4" rx="33.3" ry="32.3" fill="none" stroke="#000" stroke-width="3.3"/>
<circle cx="589.2" cy="332.4" r="6.4" fill="#ED1C24"/>
<circle cx="589.2" cy="350.6" r="6.4" fill="#000"/>
<text x="634" y="407.2" font-size="17.9" text-anchor="end" fill="#111" >sY152</text>
<line x1="635.6" y1="400" x2="667.6" y2="400" stroke="#7b7c7e" stroke-width="3.5"/>
<line x1="673.9" y1="400" x2="685" y2="400" stroke="#7b7c7e" stroke-width="3.5"/>
<line x1="691.1" y1="400" x2="701.7" y2="400" stroke="#7b7c7e" stroke-width="3.5"/>
<line x1="707.6" y1="400" x2="713.2" y2="400" stroke="#7b7c7e" stroke-width="3.5"/>
<path d="M722.2,400 L711,395.5 L712.6,400 L711,404.5 Z" fill="#7b7c7e"/>
<text x="611.2" y="425.2" font-size="17.9" text-anchor="end" fill="#111" >sY145</text>
<line x1="613.9" y1="419.2" x2="651.7" y2="419.2" stroke="#7b7c7e" stroke-width="3.5"/>
<line x1="656.9" y1="419.2" x2="668.9" y2="419.2" stroke="#7b7c7e" stroke-width="3.5"/>
<line x1="675.3" y1="419.2" x2="685.8" y2="419.2" stroke="#7b7c7e" stroke-width="3.5"/>
<line x1="691.3" y1="419.2" x2="701.7" y2="419.2" stroke="#7b7c7e" stroke-width="3.5"/>
<line x1="707.6" y1="419.2" x2="713.2" y2="419.2" stroke="#7b7c7e" stroke-width="3.5"/>
<path d="M722.2,419.2 L711,414.7 L712.6,419.2 L711,423.7 Z" fill="#7b7c7e"/>
<text x="590.3" y="446.7" font-size="17.9" text-anchor="end" fill="#111" >SRY</text>
<line x1="590.2" y1="440" x2="626.7" y2="440" stroke="#7b7c7e" stroke-width="3.5"/>
<line x1="633.6" y1="440" x2="645.8" y2="440" stroke="#7b7c7e" stroke-width="3.5"/>
<line x1="652" y1="440" x2="663.9" y2="440" stroke="#7b7c7e" stroke-width="3.5"/>
<line x1="670.2" y1="440" x2="682.4" y2="440" stroke="#7b7c7e" stroke-width="3.5"/>
<line x1="688.9" y1="440" x2="700.9" y2="440" stroke="#7b7c7e" stroke-width="3.5"/>
<line x1="707.6" y1="440" x2="713.2" y2="440" stroke="#7b7c7e" stroke-width="3.5"/>
<path d="M722.2,440 L711,435.5 L712.6,440 L711,444.5 Z" fill="#7b7c7e"/>
<text x="562.1" y="466.9" font-size="17.9" text-anchor="end" fill="#111" >sY84</text>
<line x1="564.2" y1="459.4" x2="606.7" y2="459.4" stroke="#7b7c7e" stroke-width="3.5"/>
<line x1="613.3" y1="459.4" x2="625.8" y2="459.4" stroke="#7b7c7e" stroke-width="3.5"/>
<line x1="632.2" y1="459.4" x2="644.4" y2="459.4" stroke="#7b7c7e" stroke-width="3.5"/>
<line x1="651.1" y1="459.4" x2="663.3" y2="459.4" stroke="#7b7c7e" stroke-width="3.5"/>
<line x1="670" y1="459.4" x2="682.2" y2="459.4" stroke="#7b7c7e" stroke-width="3.5"/>
<line x1="688.9" y1="459.4" x2="700.9" y2="459.4" stroke="#7b7c7e" stroke-width="3.5"/>
<line x1="707.6" y1="459.4" x2="713.2" y2="459.4" stroke="#7b7c7e" stroke-width="3.5"/>
<path d="M722.2,459.4 L711,454.9 L712.6,459.4 L711,463.9 Z" fill="#7b7c7e"/>
<polyline points="548,496.5 563.3,475 730,475" fill="none" stroke="#000" stroke-width="3" stroke-linejoin="miter"/>
<circle cx="548" cy="496.5" r="6.4" fill="#111"/>
<line x1="730" y1="474.9" x2="743.1" y2="474.9" stroke="#ED1C24" stroke-width="1.9" stroke-linecap="round"/><line x1="730" y1="474.9" x2="739.26" y2="484.16" stroke="#ED1C24" stroke-width="1.9" stroke-linecap="round"/><line x1="730" y1="474.9" x2="730" y2="488" stroke="#ED1C24" stroke-width="1.9" stroke-linecap="round"/><line x1="730" y1="474.9" x2="720.74" y2="484.16" stroke="#ED1C24" stroke-width="1.9" stroke-linecap="round"/><line x1="730" y1="474.9" x2="716.9" y2="474.9" stroke="#ED1C24" stroke-width="1.9" stroke-linecap="round"/><line x1="730" y1="474.9" x2="720.74" y2="465.64" stroke="#ED1C24" stroke-width="1.9" stroke-linecap="round"/><line x1="730" y1="474.9" x2="730" y2="461.8" stroke="#ED1C24" stroke-width="1.9" stroke-linecap="round"/><line x1="730" y1="474.9" x2="739.26" y2="465.64" stroke="#ED1C24" stroke-width="1.9" stroke-linecap="round"/>
<circle cx="730" cy="474.9" r="6.2" fill="#ED1C24"/>
<text x="313.5" y="611.2" font-size="17.9" text-anchor="start" fill="#111" >UP5</text>
<line x1="369.7" y1="597" x2="406.25" y2="597" stroke="#000" stroke-width="3"/>
<line x1="369.7" y1="615" x2="406.25" y2="615" stroke="#000" stroke-width="3"/>
<line x1="378.9" y1="597" x2="378.9" y2="615" stroke="#000" stroke-width="1.4"/>
<line x1="385.24" y1="597" x2="385.24" y2="615" stroke="#000" stroke-width="1.4"/>
<line x1="391.57" y1="597" x2="391.57" y2="615" stroke="#000" stroke-width="1.4"/>
<line x1="397.91" y1="597" x2="397.91" y2="615" stroke="#000" stroke-width="1.4"/>
<ellipse cx="433" cy="607" rx="28.75" ry="29.9" fill="none" stroke="#000" stroke-width="3.3"/>
<circle cx="369.7" cy="597" r="6.4" fill="#7E3F98"/>
<circle cx="369.7" cy="615.3" r="6.4" fill="#000"/>
<text x="388.8" y="670.6" font-size="17.9" text-anchor="end" fill="#111" >sY155</text>
<line x1="389.8" y1="664.4" x2="428" y2="664.4" stroke="#7b7c7e" stroke-width="3.5"/>
<line x1="434.2" y1="664.4" x2="444.2" y2="664.4" stroke="#7b7c7e" stroke-width="3.5"/>
<line x1="450.2" y1="664.4" x2="460.6" y2="664.4" stroke="#7b7c7e" stroke-width="3.5"/>
<line x1="466.4" y1="664.4" x2="471.6" y2="664.4" stroke="#7b7c7e" stroke-width="3.5"/>
<path d="M480.6,664.4 L469.4,659.9 L471,664.4 L469.4,668.9 Z" fill="#7b7c7e"/>
<text x="364" y="691.3" font-size="17.9" text-anchor="end" fill="#111" >sY154</text>
<line x1="365.6" y1="685.3" x2="401.7" y2="685.3" stroke="#7b7c7e" stroke-width="3.5"/>
<line x1="408.9" y1="685.3" x2="420.9" y2="685.3" stroke="#7b7c7e" stroke-width="3.5"/>
<line x1="428" y1="685.3" x2="440" y2="685.3" stroke="#7b7c7e" stroke-width="3.5"/>
<line x1="447.2" y1="685.3" x2="459.4" y2="685.3" stroke="#7b7c7e" stroke-width="3.5"/>
<line x1="466.4" y1="685.3" x2="471.6" y2="685.3" stroke="#7b7c7e" stroke-width="3.5"/>
<path d="M480.6,685.3 L469.4,680.8 L471,685.3 L469.4,689.8 Z" fill="#7b7c7e"/>
<text x="335.6" y="712.4" font-size="17.9" text-anchor="end" fill="#111" >sY157</text>
<line x1="337.2" y1="704.7" x2="381.7" y2="704.7" stroke="#7b7c7e" stroke-width="3.5"/>
<line x1="388.3" y1="704.7" x2="400.9" y2="704.7" stroke="#7b7c7e" stroke-width="3.5"/>
<line x1="407.8" y1="704.7" x2="420" y2="704.7" stroke="#7b7c7e" stroke-width="3.5"/>
<line x1="426.9" y1="704.7" x2="439.4" y2="704.7" stroke="#7b7c7e" stroke-width="3.5"/>
<line x1="446.1" y1="704.7" x2="458.7" y2="704.7" stroke="#7b7c7e" stroke-width="3.5"/>
<line x1="465.6" y1="704.7" x2="470.8" y2="704.7" stroke="#7b7c7e" stroke-width="3.5"/>
<path d="M479.8,704.7 L468.6,700.2 L470.2,704.7 L468.6,709.2 Z" fill="#7b7c7e"/>
<polyline points="322.1,741.6 336,720.3 486.7,720.3" fill="none" stroke="#000" stroke-width="3" stroke-linejoin="miter"/>
<circle cx="322.1" cy="741.6" r="6.4" fill="#111"/>
<line x1="486.7" y1="720.3" x2="499.8" y2="720.3" stroke="#7E3F98" stroke-width="1.9" stroke-linecap="round"/><line x1="486.7" y1="720.3" x2="495.96" y2="729.56" stroke="#7E3F98" stroke-width="1.9" stroke-linecap="round"/><line x1="486.7" y1="720.3" x2="486.7" y2="733.4" stroke="#7E3F98" stroke-width="1.9" stroke-linecap="round"/><line x1="486.7" y1="720.3" x2="477.44" y2="729.56" stroke="#7E3F98" stroke-width="1.9" stroke-linecap="round"/><line x1="486.7" y1="720.3" x2="473.6" y2="720.3" stroke="#7E3F98" stroke-width="1.9" stroke-linecap="round"/><line x1="486.7" y1="720.3" x2="477.44" y2="711.04" stroke="#7E3F98" stroke-width="1.9" stroke-linecap="round"/><line x1="486.7" y1="720.3" x2="486.7" y2="707.2" stroke="#7E3F98" stroke-width="1.9" stroke-linecap="round"/><line x1="486.7" y1="720.3" x2="495.96" y2="711.04" stroke="#7E3F98" stroke-width="1.9" stroke-linecap="round"/>
<circle cx="486.7" cy="720.3" r="6.2" fill="#7E3F98"/>
<text x="530" y="611.2" font-size="17.9" text-anchor="start" fill="#111" >UP6</text>
<line x1="589.1" y1="598.1" x2="627.7" y2="598.1" stroke="#000" stroke-width="3"/>
<line x1="589.1" y1="616.3" x2="627.7" y2="616.3" stroke="#000" stroke-width="3"/>
<line x1="598.3" y1="598.1" x2="598.3" y2="616.3" stroke="#000" stroke-width="1.4"/>
<line x1="605.15" y1="598.1" x2="605.15" y2="616.3" stroke="#000" stroke-width="1.4"/>
<line x1="612" y1="598.1" x2="612" y2="616.3" stroke="#000" stroke-width="1.4"/>
<line x1="618.85" y1="598.1" x2="618.85" y2="616.3" stroke="#000" stroke-width="1.4"/>
<ellipse cx="659" cy="607.2" rx="33.3" ry="32.3" fill="none" stroke="#000" stroke-width="3.3"/>
<circle cx="589.1" cy="597.2" r="6.4" fill="#7E3F98"/>
<circle cx="589.1" cy="616.1" r="6.4" fill="#000"/>
<text x="609.9" y="670.9" font-size="17.9" text-anchor="end" fill="#111" >sY254</text>
<line x1="612.8" y1="666.4" x2="646.7" y2="666.4" stroke="#7b7c7e" stroke-width="3.5"/>
<line x1="653.6" y1="666.4" x2="664.7" y2="666.4" stroke="#7b7c7e" stroke-width="3.5"/>
<line x1="671.1" y1="666.4" x2="683.6" y2="666.4" stroke="#7b7c7e" stroke-width="3.5"/>
<line x1="690" y1="666.4" x2="702.2" y2="666.4" stroke="#7b7c7e" stroke-width="3.5"/>
<line x1="709.1" y1="666.4" x2="714.3" y2="666.4" stroke="#7b7c7e" stroke-width="3.5"/>
<path d="M723.3,666.4 L712.1,661.9 L713.7,666.4 L712.1,670.9 Z" fill="#7b7c7e"/>
<text x="587" y="692" font-size="17.9" text-anchor="end" fill="#111" >sY239</text>
<line x1="590.2" y1="687" x2="627.6" y2="687" stroke="#7b7c7e" stroke-width="3.5"/>
<line x1="633.9" y1="687" x2="645" y2="687" stroke="#7b7c7e" stroke-width="3.5"/>
<line x1="651.3" y1="687" x2="663.9" y2="687" stroke="#7b7c7e" stroke-width="3.5"/>
<line x1="670.6" y1="687" x2="682.8" y2="687" stroke="#7b7c7e" stroke-width="3.5"/>
<line x1="689.8" y1="687" x2="702" y2="687" stroke="#7b7c7e" stroke-width="3.5"/>
<line x1="709.1" y1="687" x2="714.3" y2="687" stroke="#7b7c7e" stroke-width="3.5"/>
<path d="M723.3,687 L712.1,682.5 L713.7,687 L712.1,691.5 Z" fill="#7b7c7e"/>
<text x="562.9" y="713.1" font-size="17.9" text-anchor="end" fill="#111" >sY255</text>
<line x1="566.3" y1="707" x2="608.7" y2="707" stroke="#7b7c7e" stroke-width="3.5"/>
<line x1="620.9" y1="707" x2="626.9" y2="707" stroke="#7b7c7e" stroke-width="3.5"/>
<line x1="633.3" y1="707" x2="645.8" y2="707" stroke="#7b7c7e" stroke-width="3.5"/>
<line x1="652.2" y1="707" x2="664.7" y2="707" stroke="#7b7c7e" stroke-width="3.5"/>
<line x1="671.1" y1="707" x2="683.6" y2="707" stroke="#7b7c7e" stroke-width="3.5"/>
<line x1="690" y1="707" x2="702.2" y2="707" stroke="#7b7c7e" stroke-width="3.5"/>
<line x1="709.1" y1="707" x2="714.3" y2="707" stroke="#7b7c7e" stroke-width="3.5"/>
<path d="M723.3,707 L712.1,702.5 L713.7,707 L712.1,711.5 Z" fill="#7b7c7e"/>
<polyline points="546.3,743.3 560.3,722 730,722" fill="none" stroke="#000" stroke-width="3" stroke-linejoin="miter"/>
<circle cx="546.3" cy="743.3" r="6.4" fill="#111"/>
<line x1="730" y1="722.1" x2="743.1" y2="722.1" stroke="#7E3F98" stroke-width="1.9" stroke-linecap="round"/><line x1="730" y1="722.1" x2="739.26" y2="731.36" stroke="#7E3F98" stroke-width="1.9" stroke-linecap="round"/><line x1="730" y1="722.1" x2="730" y2="735.2" stroke="#7E3F98" stroke-width="1.9" stroke-linecap="round"/><line x1="730" y1="722.1" x2="720.74" y2="731.36" stroke="#7E3F98" stroke-width="1.9" stroke-linecap="round"/><line x1="730" y1="722.1" x2="716.9" y2="722.1" stroke="#7E3F98" stroke-width="1.9" stroke-linecap="round"/><line x1="730" y1="722.1" x2="720.74" y2="712.84" stroke="#7E3F98" stroke-width="1.9" stroke-linecap="round"/><line x1="730" y1="722.1" x2="730" y2="709" stroke="#7E3F98" stroke-width="1.9" stroke-linecap="round"/><line x1="730" y1="722.1" x2="739.26" y2="712.84" stroke="#7E3F98" stroke-width="1.9" stroke-linecap="round"/>
<circle cx="730" cy="722.1" r="6.2" fill="#7E3F98"/>
<line x1="846.1" y1="51.8" x2="846.1" y2="231.9" stroke="#7a7a7a" stroke-width="1.3"/>
<line x1="890.9" y1="51.8" x2="890.9" y2="231.9" stroke="#7a7a7a" stroke-width="1.3"/>
<line x1="925.2" y1="51.8" x2="925.2" y2="231.9" stroke="#7a7a7a" stroke-width="1.3"/>
<line x1="957.4" y1="51.8" x2="957.4" y2="231.9" stroke="#7a7a7a" stroke-width="1.3"/>
<line x1="982.2" y1="51.8" x2="982.2" y2="231.9" stroke="#7a7a7a" stroke-width="1.3"/>
<line x1="997.4" y1="51.8" x2="997.4" y2="231.9" stroke="#7a7a7a" stroke-width="1.3"/>
<path d="M829.5,148.5 L829.7,147.99 L829.95,147.32 L830.25,146.53 L830.58,145.64 L830.94,144.69 L831.32,143.7 L831.73,142.71 L832.15,141.74 L832.57,140.83 L833,140 L833.44,139.22 L833.92,138.44 L834.42,137.66 L834.94,136.9 L835.47,136.16 L836,135.44 L836.53,134.76 L837.04,134.12 L837.53,133.53 L838,133 L838.44,132.53 L838.87,132.12 L839.28,131.75 L839.68,131.43 L840.07,131.14 L840.46,130.88 L840.84,130.64 L841.22,130.42 L841.61,130.21 L842,130 L842.39,129.8 L842.78,129.61 L843.17,129.43 L843.56,129.28 L843.94,129.14 L844.33,129.02 L844.72,128.93 L845.11,128.86 L845.5,128.81 L845.9,128.8 L846.29,128.81 L846.68,128.83 L847.06,128.86 L847.43,128.92 L847.82,129.01 L848.21,129.13 L848.62,129.29 L849.06,129.48 L849.51,129.72 L850,130 L850.51,130.34 L851.05,130.74 L851.6,131.19 L852.17,131.68 L852.76,132.2 L853.36,132.75 L853.99,133.31 L854.64,133.88 L855.31,134.44 L856,135 L856.72,135.57 L857.47,136.17 L858.25,136.79 L859.06,137.42 L859.88,138.06 L860.7,138.7 L861.54,139.32 L862.37,139.91 L863.19,140.48 L864,141 L864.8,141.51 L865.62,142.02 L866.43,142.54 L867.25,143.03 L868.06,143.5 L868.87,143.93 L869.67,144.3 L870.46,144.62 L871.24,144.85 L872,145 L872.75,145.07 L873.48,145.06 L874.21,145 L874.92,144.87 L875.62,144.69 L876.32,144.45 L877,144.16 L877.68,143.82 L878.35,143.43 L879,143 L879.64,142.51 L880.25,141.93 L880.85,141.3 L881.44,140.6 L882.02,139.87 L882.6,139.1 L883.18,138.32 L883.77,137.54 L884.38,136.76 L885,136 L885.65,135.19 L886.33,134.29 L887.03,133.32 L887.74,132.34 L888.46,131.37 L889.16,130.45 L889.84,129.63 L890.5,128.94 L891.12,128.42 L891.7,128.1 L892.22,127.98 L892.7,128.03 L893.14,128.21 L893.56,128.52 L893.96,128.93 L894.34,129.43 L894.73,130.01 L895.13,130.64 L895.55,131.31 L896,132 L896.47,132.75 L896.96,133.61 L897.45,134.55 L897.95,135.56 L898.46,136.62 L898.97,137.71 L899.48,138.81 L899.99,139.9 L900.5,140.97 L901,142 L901.5,143.02 L901.99,144.07 L902.47,145.14 L902.96,146.22 L903.45,147.28 L903.94,148.32 L904.44,149.33 L904.95,150.29 L905.47,151.18 L906,152 L906.55,152.77 L907.13,153.52 L907.73,154.23 L908.34,154.91 L908.95,155.53 L909.56,156.09 L910.15,156.58 L910.73,156.98 L911.28,157.29 L911.8,157.5 L912.28,157.6 L912.73,157.62 L913.15,157.54 L913.56,157.39 L913.95,157.16 L914.34,156.85 L914.73,156.48 L915.13,156.04 L915.55,155.55 L916,155 L916.47,154.35 L916.95,153.57 L917.45,152.68 L917.96,151.72 L918.47,150.72 L918.98,149.7 L919.5,148.68 L920.01,147.71 L920.51,146.81 L921,146 L921.48,145.24 L921.97,144.48 L922.44,143.73 L922.92,143 L923.39,142.31 L923.86,141.68 L924.33,141.12 L924.79,140.64 L925.25,140.26 L925.7,140 L926.14,139.85 L926.56,139.81 L926.96,139.85 L927.36,139.98 L927.76,140.19 L928.17,140.46 L928.59,140.78 L929.03,141.15 L929.5,141.56 L930,142 L930.54,142.56 L931.11,143.3 L931.7,144.17 L932.32,145.11 L932.95,146.06 L933.59,146.97 L934.23,147.77 L934.86,148.42 L935.49,148.84 L936.1,149 L936.69,148.91 L937.26,148.64 L937.82,148.21 L938.37,147.64 L938.93,146.94 L939.5,146.12 L940.08,145.2 L940.69,144.2 L941.33,143.13 L942,142 L942.71,140.74 L943.46,139.3 L944.24,137.71 L945.03,136.02 L945.85,134.27 L946.68,132.49 L947.51,130.74 L948.35,129.04 L949.18,127.45 L950,126 L950.83,124.62 L951.68,123.24 L952.55,121.87 L953.42,120.54 L954.29,119.27 L955.15,118.09 L955.99,117.02 L956.8,116.08 L957.57,115.3 L958.3,114.7 L958.97,114.3 L959.59,114.1 L960.17,114.05 L960.71,114.14 L961.24,114.34 L961.77,114.62 L962.29,114.95 L962.83,115.31 L963.4,115.67 L964,116 L964.64,116.41 L965.32,116.97 L966.01,117.64 L966.72,118.36 L967.43,119.09 L968.14,119.76 L968.84,120.33 L969.52,120.75 L970.18,120.95 L970.8,120.9 L971.38,120.6 L971.91,120.1 L972.41,119.43 L972.89,118.61 L973.37,117.68 L973.85,116.64 L974.34,115.53 L974.85,114.37 L975.4,113.19 L976,112 L976.66,110.68 L977.38,109.12 L978.15,107.41 L978.94,105.61 L979.74,103.8 L980.54,102.06 L981.31,100.47 L982.04,99.09 L982.71,98.01 L983.3,97.3 L983.81,96.99 L984.27,97 L984.67,97.29 L985.03,97.8 L985.36,98.46 L985.68,99.21 L985.99,100 L986.3,100.77 L986.64,101.45 L987,102 L987.39,102.49 L987.79,103.03 L988.2,103.6 L988.61,104.18 L989.02,104.74 L989.42,105.25 L989.82,105.7 L990.2,106.06 L990.56,106.3 L990.9,106.4 L991.21,106.34 L991.5,106.12 L991.76,105.77 L992.01,105.34 L992.25,104.84 L992.49,104.31 L992.72,103.78 L992.97,103.28 L993.23,102.84 L993.5,102.5 L993.79,102.2 L994.08,101.88 L994.38,101.55 L994.69,101.24 L995,100.96 L995.31,100.74 L995.63,100.58 L995.95,100.51 L996.28,100.54 L996.6,100.7 L996.93,100.98 L997.26,101.37 L997.6,101.86 L997.94,102.43 L998.28,103.07 L998.63,103.77 L998.97,104.53 L999.32,105.33 L999.66,106.16 L1000,107 L1000.34,107.87 L1000.68,108.78 L1001.02,109.72 L1001.36,110.71 L1001.7,111.75 L1002.04,112.83 L1002.38,113.97 L1002.72,115.16 L1003.06,116.4 L1003.4,117.7 L1003.74,119.15 L1004.08,120.81 L1004.43,122.61 L1004.77,124.48 L1005.11,126.36 L1005.45,128.18 L1005.79,129.88 L1006.13,131.39 L1006.47,132.65 L1006.8,133.6 L1007.1,134.23 L1007.34,134.61 L1007.55,134.77 L1007.75,134.76 L1007.96,134.61 L1008.21,134.36 L1008.52,134.03 L1008.9,133.67 L1009.39,133.32 L1010,133 L1010.75,132.67 L1011.63,132.25 L1012.62,131.76 L1013.68,131.23 L1014.8,130.66 L1015.95,130.07 L1017.11,129.48 L1018.26,128.92 L1019.36,128.38 L1020.4,127.9 L1021.4,127.46 L1022.39,127.03 L1023.37,126.61 L1024.35,126.21 L1025.31,125.81 L1026.27,125.43 L1027.22,125.06 L1028.16,124.7 L1029.08,124.34 L1030,124 L1030.94,123.66 L1031.92,123.31 L1032.92,122.97 L1033.92,122.63 L1034.9,122.31 L1035.83,122 L1036.68,121.73 L1037.45,121.48 L1038.09,121.27 L1038.6,121.1 L1038.6,129.1 L1038.09,129.21 L1037.45,129.35 L1036.68,129.51 L1035.83,129.69 L1034.9,129.89 L1033.92,130.1 L1032.92,130.32 L1031.92,130.54 L1030.94,130.77 L1030,131 L1029.08,131.22 L1028.16,131.44 L1027.22,131.67 L1026.27,131.89 L1025.31,132.13 L1024.35,132.38 L1023.37,132.65 L1022.39,132.94 L1021.4,133.26 L1020.4,133.6 L1019.36,134 L1018.26,134.46 L1017.11,134.96 L1015.95,135.49 L1014.8,136.03 L1013.68,136.56 L1012.62,137.06 L1011.63,137.51 L1010.75,137.9 L1010,138.2 L1009.39,138.44 L1008.9,138.65 L1008.52,138.83 L1008.21,138.96 L1007.96,139.06 L1007.75,139.1 L1007.55,139.09 L1007.34,139.02 L1007.1,138.9 L1006.8,138.7 L1006.47,138.41 L1006.13,138 L1005.79,137.5 L1005.45,136.94 L1005.11,136.34 L1004.77,135.73 L1004.43,135.12 L1004.08,134.55 L1003.74,134.03 L1003.4,133.6 L1003.06,133.24 L1002.72,132.91 L1002.38,132.62 L1002.04,132.35 L1001.7,132.11 L1001.36,131.88 L1001.02,131.66 L1000.68,131.44 L1000.34,131.22 L1000,131 L999.66,130.76 L999.32,130.51 L998.97,130.26 L998.63,130.01 L998.28,129.78 L997.94,129.56 L997.6,129.36 L997.26,129.2 L996.93,129.08 L996.6,129 L996.28,128.98 L995.95,129 L995.63,129.07 L995.31,129.17 L995,129.29 L994.69,129.43 L994.38,129.58 L994.08,129.73 L993.79,129.87 L993.5,130 L993.23,130.13 L992.97,130.27 L992.72,130.43 L992.49,130.6 L992.25,130.76 L992.01,130.92 L991.76,131.05 L991.5,131.17 L991.21,131.25 L990.9,131.3 L990.56,131.31 L990.2,131.29 L989.82,131.24 L989.42,131.16 L989.02,131.07 L988.61,130.97 L988.2,130.86 L987.79,130.74 L987.39,130.62 L987,130.5 L986.62,130.35 L986.26,130.16 L985.89,129.93 L985.53,129.69 L985.17,129.45 L984.81,129.24 L984.45,129.07 L984.08,128.96 L983.69,128.93 L983.3,129 L982.89,129.17 L982.47,129.43 L982.04,129.76 L981.61,130.15 L981.17,130.59 L980.73,131.06 L980.29,131.55 L979.85,132.04 L979.42,132.53 L979,133 L978.59,133.48 L978.18,134.01 L977.78,134.56 L977.39,135.13 L976.99,135.7 L976.6,136.26 L976.21,136.79 L975.81,137.29 L975.41,137.73 L975,138.1 L974.6,138.42 L974.21,138.71 L973.84,138.97 L973.46,139.2 L973.07,139.39 L972.68,139.54 L972.26,139.65 L971.81,139.71 L971.33,139.73 L970.8,139.7 L970.22,139.6 L969.59,139.42 L968.92,139.17 L968.21,138.87 L967.49,138.54 L966.77,138.2 L966.04,137.86 L965.33,137.53 L964.65,137.24 L964,137 L963.4,136.76 L962.83,136.46 L962.29,136.15 L961.77,135.83 L961.24,135.55 L960.71,135.32 L960.17,135.18 L959.59,135.14 L958.97,135.24 L958.3,135.5 L957.57,135.92 L956.8,136.49 L955.99,137.17 L955.15,137.96 L954.29,138.84 L953.42,139.8 L952.55,140.8 L951.68,141.85 L950.83,142.92 L950,144 L949.18,145.15 L948.35,146.43 L947.51,147.8 L946.68,149.23 L945.85,150.68 L945.03,152.12 L944.24,153.5 L943.46,154.8 L942.71,155.98 L942,157 L941.33,157.9 L940.69,158.74 L940.08,159.51 L939.5,160.21 L938.93,160.84 L938.37,161.38 L937.82,161.83 L937.26,162.19 L936.69,162.45 L936.1,162.6 L935.49,162.61 L934.86,162.45 L934.23,162.16 L933.59,161.76 L932.95,161.3 L932.32,160.8 L931.7,160.28 L931.11,159.79 L930.54,159.35 L930,159 L929.5,158.68 L929.03,158.32 L928.59,157.95 L928.17,157.58 L927.76,157.24 L927.36,156.94 L926.96,156.71 L926.56,156.56 L926.14,156.52 L925.7,156.6 L925.25,156.81 L924.79,157.14 L924.33,157.56 L923.86,158.07 L923.39,158.65 L922.92,159.28 L922.44,159.94 L921.97,160.63 L921.48,161.32 L921,162 L920.51,162.72 L920.01,163.52 L919.5,164.38 L918.98,165.28 L918.47,166.18 L917.96,167.07 L917.45,167.92 L916.95,168.71 L916.47,169.41 L916,170 L915.55,170.51 L915.13,171 L914.73,171.44 L914.34,171.83 L913.95,172.16 L913.56,172.41 L913.15,172.58 L912.73,172.66 L912.28,172.64 L911.8,172.5 L911.28,172.23 L910.73,171.82 L910.15,171.29 L909.56,170.67 L908.95,169.97 L908.34,169.21 L907.73,168.42 L907.13,167.6 L906.55,166.79 L906,166 L905.47,165.21 L904.95,164.38 L904.44,163.52 L903.94,162.63 L903.45,161.72 L902.96,160.79 L902.47,159.85 L901.99,158.9 L901.5,157.95 L901,157 L900.5,156.01 L899.99,154.95 L899.48,153.85 L898.97,152.74 L898.46,151.62 L897.95,150.54 L897.45,149.52 L896.96,148.57 L896.47,147.72 L896,147 L895.55,146.39 L895.13,145.84 L894.73,145.37 L894.34,144.96 L893.96,144.62 L893.56,144.36 L893.14,144.16 L892.7,144.04 L892.22,143.98 L891.7,144 L891.12,144.12 L890.5,144.35 L889.84,144.69 L889.16,145.1 L888.46,145.56 L887.74,146.06 L887.03,146.58 L886.33,147.09 L885.65,147.57 L885,148 L884.38,148.41 L883.77,148.85 L883.18,149.29 L882.6,149.74 L882.02,150.19 L881.44,150.62 L880.85,151.02 L880.25,151.39 L879.64,151.72 L879,152 L878.35,152.24 L877.68,152.46 L877,152.65 L876.32,152.81 L875.62,152.94 L874.92,153.03 L874.21,153.09 L873.48,153.1 L872.75,153.08 L872,153 L871.24,152.87 L870.46,152.69 L869.67,152.46 L868.87,152.18 L868.06,151.88 L867.25,151.54 L866.43,151.17 L865.62,150.79 L864.8,150.4 L864,150 L863.19,149.59 L862.37,149.14 L861.54,148.68 L860.7,148.19 L859.88,147.69 L859.06,147.17 L858.25,146.64 L857.47,146.1 L856.72,145.55 L856,145 L855.31,144.42 L854.64,143.79 L853.99,143.12 L853.36,142.44 L852.76,141.76 L852.17,141.1 L851.6,140.48 L851.05,139.91 L850.51,139.41 L850,139 L849.51,138.67 L849.06,138.4 L848.62,138.18 L848.21,138.01 L847.82,137.89 L847.43,137.8 L847.06,137.76 L846.68,137.75 L846.29,137.76 L845.9,137.8 L845.5,137.87 L845.11,137.96 L844.72,138.09 L844.33,138.25 L843.94,138.45 L843.56,138.68 L843.17,138.95 L842.78,139.26 L842.39,139.61 L842,140 L841.61,140.43 L841.22,140.91 L840.84,141.43 L840.46,141.98 L840.07,142.58 L839.68,143.2 L839.28,143.86 L838.87,144.55 L838.44,145.26 L838,146 L837.53,146.79 L837.04,147.66 L836.53,148.57 L836,149.53 L835.47,150.5 L834.94,151.47 L834.42,152.43 L833.92,153.34 L833.44,154.21 L833,155 L832.57,155.75 L832.15,156.49 L831.73,157.21 L831.32,157.9 L830.94,158.56 L830.58,159.18 L830.25,159.74 L829.95,160.23 L829.7,160.66 L829.5,161 Z" fill="#000" stroke="#000" stroke-width="0.8"/>
<path d="M902.5,151.6 L902.77,151.76 L903.11,151.96 L903.52,152.2 L903.98,152.47 L904.47,152.76 L904.98,153.07 L905.51,153.4 L906.03,153.73 L906.53,154.07 L907,154.4 L907.45,154.75 L907.9,155.14 L908.35,155.55 L908.8,155.97 L909.25,156.4 L909.7,156.82 L910.15,157.22 L910.6,157.59 L911.05,157.92 L911.5,158.2 L911.95,158.44 L912.41,158.66 L912.87,158.85 L913.32,159.02 L913.78,159.16 L914.24,159.28 L914.69,159.36 L915.13,159.41 L915.57,159.42 L916,159.4 L916.44,159.32 L916.9,159.17 L917.36,158.97 L917.83,158.73 L918.28,158.47 L918.71,158.21 L919.11,157.95 L919.46,157.72 L919.76,157.53 L920,157.4 L920,158.2 L919.76,158.45 L919.46,158.8 L919.11,159.21 L918.71,159.68 L918.28,160.16 L917.83,160.65 L917.36,161.12 L916.9,161.55 L916.44,161.92 L916,162.2 L915.57,162.42 L915.13,162.62 L914.69,162.79 L914.24,162.93 L913.78,163.04 L913.32,163.1 L912.87,163.11 L912.41,163.07 L911.95,162.97 L911.5,162.8 L911.05,162.56 L910.6,162.24 L910.15,161.85 L909.7,161.4 L909.25,160.91 L908.8,160.39 L908.35,159.85 L907.9,159.29 L907.45,158.74 L907,158.2 L906.53,157.63 L906.03,156.99 L905.51,156.31 L904.98,155.61 L904.47,154.91 L903.98,154.24 L903.52,153.6 L903.11,153.04 L902.77,152.56 L902.5,152.2 Z" fill="#fff"/>
<path d="M978,127.5 C978.5,126.95 980,124.98 981,124.2 C982,123.42 983,122.8 984,122.8 C985,122.8 986,123.5 987,124.2 C988,124.9 989.5,126.53 990,127" fill="none" stroke="#fff" stroke-width="0.9"/>
<path d="M887.5,142.2 C888.08,141.9 889.83,140.5 891,140.4 C892.17,140.3 893.92,141.4 894.5,141.6" fill="none" stroke="#fff" stroke-width="0.8"/>
<path d="M829.3,112.9 C830.42,113.17 833.72,113.48 836,114.5 C838.28,115.52 840.67,116.75 843,119 C845.33,121.25 847.67,124.5 850,128 C852.33,131.5 854.57,135.85 857,140 C859.43,144.15 861.25,148.1 864.6,152.9 C867.95,157.7 872.7,162.68 877.1,168.8 C881.5,174.92 886.83,183.12 891,189.6 C895.17,196.08 899.27,203.63 902.1,207.7 C904.93,211.77 905.92,212.38 908,214 C910.08,215.62 912.6,217.07 914.6,217.4 C916.6,217.73 918.15,216.93 920,216 C921.85,215.07 923.2,214.62 925.7,211.8 C928.2,208.98 931.95,202.57 935,199.1 C938.05,195.63 940.85,193.3 944,191 C947.15,188.7 950.15,186.67 953.9,185.3 C957.65,183.93 962.82,183.75 966.5,182.8 C970.18,181.85 973.37,181.07 976,179.6 C978.63,178.13 980.2,176.52 982.3,174 C984.4,171.48 986.5,168.08 988.6,164.5 C990.7,160.92 993,155.75 994.9,152.5 C996.8,149.25 998.22,147.58 1000,145 C1001.78,142.42 1003.52,140.03 1005.6,137 C1007.68,133.97 1010.03,130.2 1012.5,126.8 C1014.97,123.4 1017.77,119.43 1020.4,116.6 C1023.03,113.77 1025.27,111.98 1028.3,109.8 C1031.33,107.62 1036.88,104.55 1038.6,103.5" fill="none" stroke="#8a8a8a" stroke-width="2.4" stroke-linejoin="round"/>
<path d="M829.3,117.5 C830.42,117.58 833.72,117.42 836,118 C838.28,118.58 840.67,119.17 843,121 C845.33,122.83 847.67,126 850,129 C852.33,132 854.57,135.5 857,139 C859.43,142.5 861.25,145.67 864.6,150 C867.95,154.33 872.7,159.33 877.1,165 C881.5,170.67 886.83,178.08 891,184 C895.17,189.92 899.27,196.83 902.1,200.5 C904.93,204.17 905.83,204.67 908,206 C910.17,207.33 913.1,208.33 915.1,208.5 C917.1,208.67 918.15,208.17 920,207 C921.85,205.83 923.7,203.83 926.2,201.5 C928.7,199.17 931.95,195.92 935,193 C938.05,190.08 940.82,186.33 944.5,184 C948.18,181.67 953.65,180.05 957.1,179 C960.55,177.95 962.58,178.75 965.2,177.7 C967.82,176.65 970.48,174.27 972.8,172.7 C975.12,171.13 977,169.88 979.1,168.3 C981.2,166.72 982.98,165.62 985.4,163.2 C987.82,160.78 991.17,156.67 993.6,153.8 C996.03,150.93 998,148.55 1000,146 C1002,143.45 1003.52,141.42 1005.6,138.5 C1007.68,135.58 1010.03,131.83 1012.5,128.5 C1014.97,125.17 1017.77,121.2 1020.4,118.5 C1023.03,115.8 1025.27,114.13 1028.3,112.3 C1031.33,110.47 1036.88,108.3 1038.6,107.5" fill="none" stroke="#8a8a8a" stroke-width="2.4" stroke-linejoin="round" stroke-dasharray="5,3"/>
<path d="M829.3,117.7 C830.42,117.75 833.72,117.45 836,118 C838.28,118.55 840.67,119.17 843,121 C845.33,122.83 847.5,125.83 850,129 C852.5,132.17 855.33,136.17 858,140 C860.67,143.83 862.83,147.83 866,152 C869.17,156.17 872.83,159.33 877,165 C881.17,170.67 886.82,179.58 891,186 C895.18,192.42 899.27,199.58 902.1,203.5 C904.93,207.42 905.83,207.9 908,209.5 C910.17,211.1 913.1,212.68 915.1,213.1 C917.1,213.52 918.32,212.93 920,212 C921.68,211.07 922.7,210.07 925.2,207.5 C927.7,204.93 932.03,199.52 935,196.6 C937.97,193.68 940.37,191.88 943,190 C945.63,188.12 948.45,186.3 950.8,185.3 C953.15,184.3 954.73,184.47 957.1,184 C959.47,183.53 962.38,183.02 965,182.5 C967.62,181.98 970.45,181.8 972.8,180.9 C975.15,180 977,178.78 979.1,177.1 C981.2,175.42 982.77,173.95 985.4,170.8 C988.03,167.65 992.13,162.33 994.9,158.2 C997.67,154.07 999.48,150.2 1002,146 C1004.52,141.8 1006.93,137.5 1010,133 C1013.07,128.5 1017.35,122.42 1020.4,119 C1023.45,115.58 1025.27,114.37 1028.3,112.5 C1031.33,110.63 1036.88,108.58 1038.6,107.8" fill="none" stroke="#00A651" stroke-width="2.2" stroke-linejoin="round"/>
<path d="M829.3,124.7 C830.42,124.67 833.58,124.38 836,124.5 C838.42,124.62 841.47,124.32 843.8,125.4 C846.13,126.48 847.63,128.4 850,131 C852.37,133.6 854.63,137.43 858,141 C861.37,144.57 866.87,149.23 870.2,152.4 C873.53,155.57 875,156.1 878,160 C881,163.9 885.37,171.47 888.2,175.8 C891.03,180.13 892.68,183 895,186 C897.32,189 899.6,191.97 902.1,193.8 C904.6,195.63 906.98,196.07 910,197 C913.02,197.93 917.37,199.65 920.2,199.4 C923.03,199.15 924.53,197.22 927,195.5 C929.47,193.78 931.57,191.12 935,189.1 C938.43,187.08 943.92,184.67 947.6,183.4 C951.28,182.13 953.95,182.13 957.1,181.5 C960.25,180.87 963.88,180.33 966.5,179.6 C969.12,178.87 970.72,178.2 972.8,177.1 C974.88,176 976.8,174.77 979,173 C981.2,171.23 983.5,169 986,166.5 C988.5,164 991.67,160.42 994,158 C996.33,155.58 997.5,154.5 1000,152 C1002.5,149.5 1005.6,146.5 1009,143 C1012.4,139.5 1016.98,134.08 1020.4,131 C1023.82,127.92 1026.47,126.15 1029.5,124.5 C1032.53,122.85 1037.08,121.67 1038.6,121.1" fill="none" stroke="#00A651" stroke-width="2.2" stroke-linejoin="round"/>
<path d="M829.3,155.2 C830.08,152.67 832.38,144.87 834,140 C835.62,135.13 837.5,129.5 839,126 C840.5,122.5 841.62,120.6 843,119 C844.38,117.4 845.97,116.4 847.3,116.4 C848.63,116.4 849.55,117.07 851,119 C852.45,120.93 854.17,124.67 856,128 C857.83,131.33 860.17,136.5 862,139 C863.83,141.5 865.17,142.27 867,143 C868.83,143.73 871.17,143.9 873,143.4 C874.83,142.9 876.17,142.57 878,140 C879.83,137.43 882.33,131.17 884,128 C885.67,124.83 886.95,122.37 888,121 C889.05,119.63 889.47,119.63 890.3,119.8 C891.13,119.97 891.88,119.8 893,122 C894.12,124.2 895.33,127.5 897,133 C898.67,138.5 901.33,149.5 903,155 C904.67,160.5 905.77,163.43 907,166 C908.23,168.57 909.23,170.4 910.4,170.4 C911.57,170.4 912.73,169.4 914,166 C915.27,162.6 916.83,155 918,150 C919.17,145 920,139.42 921,136 C922,132.58 923,129.83 924,129.5 C925,129.17 926,130.58 927,134 C928,137.42 928.95,144.3 930,150 C931.05,155.7 931.93,163.58 933.3,168.2 C934.67,172.82 936.55,175.9 938.2,177.7 C939.85,179.5 940.8,179.47 943.2,179 C945.6,178.53 950.28,175.68 952.6,174.9 C954.92,174.12 955,174.25 957.1,174.3 C959.2,174.35 963,174.95 965.2,175.2 C967.4,175.45 968.5,176 970.3,175.8 C972.1,175.6 974,175.15 976,174 C978,172.85 980.2,170.8 982.3,168.9 C984.4,167 986.5,164.7 988.6,162.6 C990.7,160.5 993,158.23 994.9,156.3 C996.8,154.37 997.65,153.38 1000,151 C1002.35,148.62 1005.6,145.47 1009,142 C1012.4,138.53 1016.98,133.5 1020.4,130.2 C1023.82,126.9 1026.47,124.38 1029.5,122.2 C1032.53,120.02 1037.08,117.95 1038.6,117.1" fill="none" stroke="#00A651" stroke-width="2.2" stroke-linejoin="round"/>
<rect x="809.5" y="51.8" width="244.9" height="180.1" fill="none" stroke="#2a2a2a" stroke-width="1.9"/>
<text x="809.5" y="252.7" font-size="16.2" text-anchor="middle" fill="#111" >40</text>
<line x1="829.91" y1="231.9" x2="829.91" y2="229.2" stroke="#111" stroke-width="1.6"/>
<line x1="850.32" y1="231.9" x2="850.32" y2="227.4" stroke="#111" stroke-width="1.6"/>
<text x="850.32" y="252.7" font-size="16.2" text-anchor="middle" fill="#111" >50</text>
<line x1="870.73" y1="231.9" x2="870.73" y2="229.2" stroke="#111" stroke-width="1.6"/>
<line x1="891.13" y1="231.9" x2="891.13" y2="227.4" stroke="#111" stroke-width="1.6"/>
<text x="891.13" y="252.7" font-size="16.2" text-anchor="middle" fill="#111" >60</text>
<line x1="911.54" y1="231.9" x2="911.54" y2="229.2" stroke="#111" stroke-width="1.6"/>
<line x1="931.95" y1="231.9" x2="931.95" y2="227.4" stroke="#111" stroke-width="1.6"/>
<text x="931.95" y="252.7" font-size="16.2" text-anchor="middle" fill="#111" >70</text>
<line x1="952.36" y1="231.9" x2="952.36" y2="229.2" stroke="#111" stroke-width="1.6"/>
<line x1="972.77" y1="231.9" x2="972.77" y2="227.4" stroke="#111" stroke-width="1.6"/>
<text x="972.77" y="252.7" font-size="16.2" text-anchor="middle" fill="#111" >80</text>
<line x1="993.18" y1="231.9" x2="993.18" y2="229.2" stroke="#111" stroke-width="1.6"/>
<line x1="1013.58" y1="231.9" x2="1013.58" y2="227.4" stroke="#111" stroke-width="1.6"/>
<text x="1013.58" y="252.7" font-size="16.2" text-anchor="middle" fill="#111" >90</text>
<line x1="1033.99" y1="231.9" x2="1033.99" y2="229.2" stroke="#111" stroke-width="1.6"/>
<text x="1054.4" y="252.7" font-size="16.2" text-anchor="middle" fill="#111" >100</text>
<text x="801.5" y="237.1" font-size="16.2" text-anchor="end" fill="#111" >-2</text>
<line x1="809.5" y1="209.39" x2="812.2" y2="209.39" stroke="#111" stroke-width="1.6"/>
<line x1="809.5" y1="186.88" x2="814" y2="186.88" stroke="#111" stroke-width="1.6"/>
<text x="801.5" y="192.07" font-size="16.2" text-anchor="end" fill="#111" >-1</text>
<line x1="809.5" y1="164.36" x2="812.2" y2="164.36" stroke="#111" stroke-width="1.6"/>
<line x1="809.5" y1="141.85" x2="814" y2="141.85" stroke="#111" stroke-width="1.6"/>
<text x="801.5" y="147.05" font-size="16.2" text-anchor="end" fill="#111" >0</text>
<line x1="809.5" y1="119.34" x2="812.2" y2="119.34" stroke="#111" stroke-width="1.6"/>
<line x1="809.5" y1="96.82" x2="814" y2="96.82" stroke="#111" stroke-width="1.6"/>
<text x="801.5" y="102.02" font-size="16.2" text-anchor="end" fill="#111" >1</text>
<line x1="809.5" y1="74.31" x2="812.2" y2="74.31" stroke="#111" stroke-width="1.6"/>
<text x="801.5" y="57" font-size="16.2" text-anchor="end" fill="#111" >2</text>
<text x="0" y="0" font-size="17.5" text-anchor="middle" fill="#111" transform="translate(781.8,142.25) rotate(-90)">-dF/dT</text>
<text x="0" y="0" font-size="15" fill="#111" transform="translate(842.5,48.2) rotate(-45)">sY124</text>
<text x="0" y="0" font-size="15" fill="#111" transform="translate(889.8,48.2) rotate(-45)">sY127</text>
<text x="0" y="0" font-size="15" fill="#111" transform="translate(922.5,48.2) rotate(-45)">sY128</text>
<text x="0" y="0" font-size="15" fill="#111" transform="translate(953.6,48.2) rotate(-45)">sY133</text>
<text x="0" y="0" font-size="15" fill="#111" transform="translate(978.6,48.2) rotate(-45)">sY143</text>
<text x="0" y="0" font-size="15" fill="#111" transform="translate(1000.3,48.2) rotate(-45)">sY134</text>
<line x1="854" y1="304.8" x2="854" y2="485.9" stroke="#5e5e5e" stroke-width="1.1"/>
<line x1="882.5" y1="304.8" x2="882.5" y2="485.9" stroke="#5e5e5e" stroke-width="1.1"/>
<line x1="911.5" y1="304.8" x2="911.5" y2="485.9" stroke="#5e5e5e" stroke-width="1.1"/>
<line x1="933" y1="304.8" x2="933" y2="485.9" stroke="#5e5e5e" stroke-width="1.1"/>
<line x1="963" y1="304.8" x2="963" y2="485.9" stroke="#5e5e5e" stroke-width="1.1"/>
<line x1="980.5" y1="304.8" x2="980.5" y2="485.9" stroke="#5e5e5e" stroke-width="1.1"/>
<line x1="1002.9" y1="304.8" x2="1002.9" y2="485.9" stroke="#5e5e5e" stroke-width="1.1"/>
<line x1="1021.5" y1="304.8" x2="1021.5" y2="485.9" stroke="#5e5e5e" stroke-width="1.1"/>
<path d="M828.7,402 L828.95,401.82 L829.26,401.6 L829.62,401.33 L830.03,401.04 L830.48,400.71 L830.96,400.37 L831.46,400.02 L831.97,399.67 L832.49,399.33 L833,399 L833.53,398.69 L834.08,398.38 L834.66,398.08 L835.26,397.77 L835.88,397.46 L836.49,397.14 L837.11,396.79 L837.72,396.43 L838.32,396.03 L838.9,395.6 L839.47,395.12 L840.04,394.6 L840.61,394.03 L841.17,393.44 L841.73,392.84 L842.28,392.23 L842.83,391.63 L843.36,391.05 L843.89,390.51 L844.4,390 L844.9,389.53 L845.38,389.07 L845.84,388.62 L846.3,388.19 L846.75,387.77 L847.2,387.38 L847.64,387 L848.09,386.65 L848.54,386.31 L849,386 L849.47,385.71 L849.94,385.42 L850.42,385.16 L850.89,384.91 L851.37,384.69 L851.84,384.49 L852.32,384.32 L852.78,384.18 L853.25,384.07 L853.7,384 L854.13,383.97 L854.53,383.97 L854.91,384 L855.29,384.06 L855.66,384.15 L856.05,384.27 L856.47,384.41 L856.93,384.59 L857.43,384.78 L858,385 L858.64,385.28 L859.36,385.66 L860.14,386.1 L860.95,386.57 L861.79,387.06 L862.63,387.52 L863.46,387.93 L864.26,388.27 L865.01,388.5 L865.7,388.6 L866.32,388.57 L866.9,388.43 L867.44,388.21 L867.96,387.91 L868.46,387.56 L868.94,387.16 L869.43,386.74 L869.93,386.32 L870.45,385.9 L871,385.5 L871.57,385.1 L872.16,384.65 L872.77,384.18 L873.38,383.69 L873.99,383.19 L874.61,382.69 L875.22,382.22 L875.83,381.77 L876.42,381.36 L877,381 L877.56,380.67 L878.12,380.35 L878.66,380.05 L879.19,379.76 L879.72,379.51 L880.25,379.29 L880.78,379.11 L881.32,378.98 L881.85,378.91 L882.4,378.9 L882.95,378.96 L883.5,379.1 L884.05,379.29 L884.61,379.53 L885.16,379.82 L885.72,380.13 L886.28,380.47 L886.85,380.82 L887.42,381.16 L888,381.5 L888.59,381.86 L889.2,382.26 L889.83,382.7 L890.46,383.15 L891.09,383.61 L891.72,384.06 L892.33,384.49 L892.92,384.88 L893.48,385.22 L894,385.5 L894.49,385.73 L894.94,385.92 L895.38,386.09 L895.79,386.22 L896.18,386.33 L896.57,386.39 L896.94,386.43 L897.32,386.42 L897.71,386.38 L898.1,386.3 L898.5,386.17 L898.88,386 L899.27,385.78 L899.65,385.52 L900.03,385.23 L900.41,384.92 L900.79,384.58 L901.18,384.23 L901.59,383.87 L902,383.5 L902.43,383.11 L902.86,382.67 L903.3,382.2 L903.75,381.7 L904.21,381.2 L904.66,380.7 L905.12,380.22 L905.58,379.77 L906.04,379.36 L906.5,379 L906.96,378.68 L907.44,378.37 L907.93,378.07 L908.41,377.8 L908.9,377.56 L909.38,377.36 L909.84,377.19 L910.29,377.07 L910.71,377.01 L911.1,377 L911.46,377.05 L911.78,377.13 L912.08,377.26 L912.35,377.44 L912.62,377.66 L912.88,377.92 L913.14,378.24 L913.41,378.61 L913.69,379.03 L914,379.5 L914.32,380.03 L914.66,380.63 L915,381.29 L915.34,382 L915.69,382.76 L916.05,383.55 L916.41,384.38 L916.77,385.23 L917.14,386.11 L917.5,387 L917.87,388 L918.24,389.16 L918.62,390.44 L919,391.76 L919.39,393.07 L919.77,394.31 L920.16,395.42 L920.54,396.35 L920.92,397.03 L921.3,397.4 L921.67,397.47 L922.04,397.32 L922.41,396.95 L922.77,396.41 L923.14,395.72 L923.5,394.91 L923.87,394.01 L924.24,393.04 L924.62,392.02 L925,391 L925.39,389.88 L925.8,388.58 L926.21,387.15 L926.63,385.64 L927.04,384.07 L927.46,382.5 L927.86,380.96 L928.26,379.51 L928.64,378.17 L929,377 L929.34,375.96 L929.67,375 L929.99,374.11 L930.29,373.28 L930.59,372.52 L930.88,371.81 L931.16,371.16 L931.44,370.56 L931.72,370.01 L932,369.5 L932.28,369.04 L932.55,368.63 L932.82,368.28 L933.08,367.98 L933.34,367.74 L933.59,367.54 L933.85,367.39 L934.1,367.28 L934.35,367.22 L934.6,367.2 L934.85,367.21 L935.09,367.25 L935.33,367.33 L935.57,367.44 L935.81,367.61 L936.04,367.84 L936.28,368.14 L936.52,368.51 L936.76,368.96 L937,369.5 L937.24,370.11 L937.49,370.77 L937.73,371.49 L937.97,372.28 L938.21,373.14 L938.46,374.1 L938.71,375.15 L938.97,376.31 L939.23,377.59 L939.5,379 L939.78,380.61 L940.05,382.44 L940.33,384.45 L940.62,386.58 L940.91,388.78 L941.2,391 L941.51,393.18 L941.83,395.28 L942.16,397.24 L942.5,399 L942.86,400.67 L943.24,402.37 L943.64,404.04 L944.05,405.66 L944.47,407.19 L944.89,408.58 L945.31,409.79 L945.72,410.79 L946.12,411.54 L946.5,412 L946.87,412.15 L947.22,412.01 L947.57,411.62 L947.91,411.02 L948.25,410.25 L948.59,409.34 L948.93,408.32 L949.28,407.23 L949.63,406.11 L950,405 L950.38,403.81 L950.77,402.48 L951.16,401.02 L951.56,399.48 L951.97,397.88 L952.38,396.24 L952.78,394.6 L953.19,393 L953.6,391.45 L954,390 L954.4,388.59 L954.82,387.17 L955.23,385.75 L955.65,384.34 L956.06,382.97 L956.47,381.64 L956.87,380.36 L957.26,379.15 L957.64,378.03 L958,377 L958.34,376.07 L958.67,375.21 L958.98,374.42 L959.29,373.71 L959.58,373.05 L959.87,372.45 L960.15,371.9 L960.44,371.4 L960.72,370.93 L961,370.5 L961.28,370.11 L961.56,369.77 L961.83,369.47 L962.1,369.22 L962.36,369.02 L962.63,368.86 L962.89,368.75 L963.16,368.69 L963.43,368.67 L963.7,368.7 L963.98,368.78 L964.25,368.91 L964.53,369.09 L964.8,369.31 L965.08,369.58 L965.36,369.89 L965.64,370.24 L965.93,370.63 L966.21,371.05 L966.5,371.5 L966.79,372.01 L967.1,372.59 L967.4,373.23 L967.71,373.91 L968.02,374.61 L968.33,375.33 L968.63,376.04 L968.93,376.74 L969.22,377.39 L969.5,378 L969.77,378.64 L970.02,379.37 L970.27,380.15 L970.51,380.92 L970.75,381.66 L970.99,382.3 L971.23,382.8 L971.48,383.11 L971.73,383.2 L972,383 L972.28,382.51 L972.58,381.75 L972.88,380.78 L973.19,379.62 L973.5,378.31 L973.81,376.9 L974.12,375.43 L974.42,373.93 L974.72,372.44 L975,371 L975.27,369.54 L975.53,367.97 L975.77,366.32 L976.02,364.62 L976.26,362.91 L976.5,361.2 L976.74,359.52 L976.98,357.91 L977.24,356.4 L977.5,355 L977.78,353.66 L978.06,352.32 L978.35,351 L978.65,349.73 L978.94,348.53 L979.24,347.43 L979.54,346.45 L979.83,345.62 L980.12,344.96 L980.4,344.5 L980.67,344.25 L980.94,344.2 L981.21,344.32 L981.47,344.58 L981.72,344.97 L981.98,345.46 L982.24,346.03 L982.49,346.66 L982.75,347.32 L983,348 L983.25,348.69 L983.5,349.42 L983.74,350.21 L983.98,351.05 L984.23,351.97 L984.47,352.97 L984.72,354.06 L984.97,355.26 L985.23,356.57 L985.5,358 L985.78,359.63 L986.08,361.47 L986.38,363.49 L986.69,365.62 L987,367.81 L987.31,370.02 L987.62,372.2 L987.92,374.29 L988.22,376.24 L988.5,378 L988.77,379.67 L989.02,381.35 L989.27,383.01 L989.51,384.62 L989.75,386.12 L989.99,387.5 L990.23,388.72 L990.48,389.73 L990.73,390.5 L991,391 L991.28,391.22 L991.57,391.19 L991.86,390.94 L992.16,390.5 L992.47,389.88 L992.78,389.1 L993.08,388.21 L993.39,387.21 L993.7,386.13 L994,385 L994.3,383.71 L994.61,382.19 L994.92,380.49 L995.22,378.66 L995.53,376.75 L995.84,374.82 L996.14,372.93 L996.43,371.13 L996.72,369.47 L997,368 L997.27,366.68 L997.54,365.44 L997.8,364.26 L998.06,363.16 L998.31,362.12 L998.55,361.15 L998.8,360.26 L999.03,359.43 L999.27,358.68 L999.5,358 L999.72,357.4 L999.94,356.88 L1000.15,356.44 L1000.35,356.07 L1000.56,355.77 L1000.76,355.54 L1000.96,355.36 L1001.17,355.23 L1001.38,355.14 L1001.6,355.1 L1001.83,355.09 L1002.06,355.13 L1002.29,355.21 L1002.53,355.34 L1002.78,355.53 L1003.02,355.77 L1003.26,356.09 L1003.51,356.48 L1003.75,356.95 L1004,357.5 L1004.24,358.12 L1004.49,358.81 L1004.73,359.56 L1004.97,360.38 L1005.21,361.27 L1005.46,362.25 L1005.71,363.3 L1005.97,364.44 L1006.23,365.67 L1006.5,367 L1006.78,368.49 L1007.07,370.16 L1007.37,371.98 L1007.68,373.9 L1007.99,375.88 L1008.3,377.86 L1008.61,379.81 L1008.91,381.68 L1009.21,383.42 L1009.5,385 L1009.78,386.49 L1010.06,387.99 L1010.33,389.46 L1010.6,390.88 L1010.86,392.22 L1011.13,393.44 L1011.39,394.5 L1011.66,395.39 L1011.93,396.07 L1012.2,396.5 L1012.48,396.69 L1012.75,396.66 L1013.03,396.43 L1013.3,396.03 L1013.58,395.47 L1013.86,394.77 L1014.14,393.96 L1014.43,393.04 L1014.71,392.05 L1015,391 L1015.29,389.79 L1015.6,388.34 L1015.9,386.72 L1016.21,384.97 L1016.52,383.16 L1016.83,381.33 L1017.13,379.54 L1017.43,377.86 L1017.72,376.32 L1018,375 L1018.27,373.85 L1018.55,372.78 L1018.82,371.8 L1019.08,370.9 L1019.34,370.08 L1019.6,369.33 L1019.84,368.66 L1020.07,368.04 L1020.29,367.49 L1020.5,367 L1020.69,366.58 L1020.86,366.26 L1021.02,366.02 L1021.16,365.85 L1021.3,365.74 L1021.43,365.68 L1021.57,365.65 L1021.7,365.65 L1021.85,365.67 L1022,365.7 L1022.16,365.72 L1022.32,365.75 L1022.48,365.8 L1022.64,365.88 L1022.8,365.99 L1022.97,366.15 L1023.14,366.37 L1023.32,366.66 L1023.5,367.03 L1023.7,367.5 L1023.9,368.04 L1024.11,368.64 L1024.33,369.29 L1024.55,370.01 L1024.78,370.8 L1025.02,371.67 L1025.25,372.61 L1025.5,373.65 L1025.75,374.78 L1026,376 L1026.26,377.4 L1026.54,379.02 L1026.82,380.81 L1027.11,382.69 L1027.41,384.62 L1027.7,386.55 L1027.99,388.4 L1028.27,390.14 L1028.54,391.69 L1028.8,393 L1029.04,394.11 L1029.27,395.1 L1029.48,395.97 L1029.68,396.74 L1029.89,397.41 L1030.09,397.98 L1030.3,398.47 L1030.52,398.88 L1030.75,399.22 L1031,399.5 L1031.25,399.68 L1031.5,399.74 L1031.74,399.7 L1031.99,399.57 L1032.26,399.37 L1032.54,399.12 L1032.85,398.84 L1033.19,398.55 L1033.57,398.26 L1034,398 L1034.51,397.72 L1035.12,397.39 L1035.79,397.01 L1036.51,396.61 L1037.24,396.21 L1037.95,395.81 L1038.62,395.43 L1039.22,395.09 L1039.72,394.81 L1040.1,394.6 L1040.1,407.5 L1039.73,407.55 L1039.24,407.62 L1038.67,407.7 L1038.02,407.79 L1037.33,407.89 L1036.62,407.98 L1035.9,408.08 L1035.22,408.17 L1034.57,408.24 L1034,408.3 L1033.48,408.37 L1032.97,408.45 L1032.47,408.55 L1031.99,408.65 L1031.52,408.73 L1031.08,408.79 L1030.65,408.8 L1030.25,408.77 L1029.86,408.67 L1029.5,408.5 L1029.17,408.25 L1028.87,407.94 L1028.6,407.57 L1028.36,407.16 L1028.12,406.7 L1027.9,406.21 L1027.69,405.68 L1027.47,405.14 L1027.24,404.57 L1027,404 L1026.75,403.39 L1026.49,402.7 L1026.23,401.97 L1025.98,401.21 L1025.72,400.44 L1025.46,399.67 L1025.21,398.92 L1024.97,398.22 L1024.73,397.57 L1024.5,397 L1024.28,396.49 L1024.06,396.01 L1023.85,395.57 L1023.64,395.16 L1023.44,394.78 L1023.24,394.44 L1023.05,394.15 L1022.86,393.89 L1022.68,393.67 L1022.5,393.5 L1022.33,393.36 L1022.18,393.26 L1022.04,393.18 L1021.91,393.15 L1021.78,393.16 L1021.65,393.21 L1021.51,393.32 L1021.36,393.48 L1021.19,393.71 L1021,394 L1020.8,394.36 L1020.58,394.78 L1020.36,395.27 L1020.12,395.81 L1019.88,396.41 L1019.62,397.05 L1019.36,397.73 L1019.08,398.46 L1018.79,399.21 L1018.5,400 L1018.19,400.87 L1017.85,401.86 L1017.5,402.94 L1017.14,404.07 L1016.77,405.21 L1016.4,406.34 L1016.03,407.42 L1015.67,408.41 L1015.33,409.28 L1015,410 L1014.69,410.59 L1014.39,411.08 L1014.11,411.5 L1013.82,411.85 L1013.55,412.12 L1013.28,412.33 L1013.01,412.47 L1012.74,412.56 L1012.47,412.6 L1012.2,412.6 L1011.93,412.55 L1011.66,412.43 L1011.39,412.26 L1011.13,412.03 L1010.86,411.74 L1010.6,411.4 L1010.33,411.01 L1010.06,410.56 L1009.78,410.05 L1009.5,409.5 L1009.21,408.87 L1008.92,408.15 L1008.62,407.36 L1008.32,406.51 L1008.02,405.62 L1007.71,404.7 L1007.41,403.76 L1007.1,402.82 L1006.8,401.89 L1006.5,401 L1006.2,400.09 L1005.88,399.12 L1005.57,398.12 L1005.25,397.1 L1004.93,396.09 L1004.62,395.12 L1004.32,394.2 L1004.03,393.36 L1003.76,392.62 L1003.5,392 L1003.26,391.5 L1003.04,391.09 L1002.84,390.76 L1002.65,390.5 L1002.46,390.31 L1002.29,390.18 L1002.11,390.09 L1001.94,390.03 L1001.77,390.01 L1001.6,390 L1001.43,390 L1001.28,390.02 L1001.13,390.05 L1000.98,390.13 L1000.84,390.25 L1000.69,390.43 L1000.54,390.69 L1000.37,391.02 L1000.2,391.46 L1000,392 L999.79,392.66 L999.57,393.44 L999.35,394.32 L999.11,395.28 L998.87,396.31 L998.62,397.4 L998.35,398.53 L998.08,399.68 L997.79,400.84 L997.5,402 L997.19,403.22 L996.86,404.56 L996.51,405.97 L996.15,407.43 L995.78,408.89 L995.41,410.33 L995.04,411.69 L994.68,412.95 L994.33,414.06 L994,415 L993.68,415.79 L993.36,416.49 L993.05,417.09 L992.74,417.6 L992.44,418.02 L992.14,418.34 L991.85,418.57 L991.56,418.71 L991.28,418.75 L991,418.7 L990.73,418.53 L990.47,418.25 L990.21,417.85 L989.96,417.35 L989.72,416.77 L989.48,416.11 L989.23,415.4 L988.99,414.63 L988.75,413.83 L988.5,413 L988.25,412.12 L988.01,411.17 L987.77,410.15 L987.52,409.08 L987.28,407.96 L987.04,406.8 L986.79,405.61 L986.53,404.41 L986.27,403.2 L986,402 L985.72,400.74 L985.43,399.38 L985.12,397.95 L984.82,396.49 L984.51,395.04 L984.2,393.62 L983.89,392.27 L983.58,391.03 L983.29,389.93 L983,389 L982.73,388.21 L982.46,387.52 L982.2,386.91 L981.95,386.39 L981.69,385.97 L981.44,385.65 L981.19,385.43 L980.93,385.32 L980.67,385.3 L980.4,385.4 L980.12,385.63 L979.85,386.01 L979.57,386.52 L979.29,387.14 L979.01,387.85 L978.72,388.63 L978.42,389.45 L978.12,390.3 L977.82,391.16 L977.5,392 L977.17,392.89 L976.83,393.89 L976.48,394.97 L976.11,396.09 L975.75,397.22 L975.39,398.34 L975.02,399.41 L974.67,400.39 L974.33,401.27 L974,402 L973.69,402.6 L973.4,403.1 L973.12,403.51 L972.85,403.85 L972.59,404.12 L972.32,404.35 L972.04,404.54 L971.75,404.7 L971.44,404.85 L971.1,405 L970.74,405.12 L970.35,405.18 L969.94,405.2 L969.52,405.19 L969.09,405.15 L968.65,405.1 L968.22,405.05 L967.8,405.01 L967.39,404.99 L967,405 L966.63,405.01 L966.29,404.99 L965.97,404.95 L965.65,404.92 L965.34,404.9 L965.02,404.91 L964.68,404.97 L964.32,405.1 L963.93,405.3 L963.5,405.6 L963.02,405.99 L962.5,406.45 L961.95,406.98 L961.37,407.57 L960.78,408.21 L960.19,408.9 L959.6,409.63 L959.04,410.4 L958.5,411.19 L958,412 L957.54,412.85 L957.1,413.74 L956.69,414.67 L956.29,415.64 L955.91,416.65 L955.53,417.68 L955.15,418.74 L954.78,419.81 L954.39,420.9 L954,422 L953.6,423.16 L953.19,424.41 L952.77,425.72 L952.36,427.07 L951.94,428.41 L951.54,429.72 L951.13,430.97 L950.74,432.12 L950.36,433.14 L950,434 L949.65,434.74 L949.33,435.4 L949.01,435.99 L948.71,436.5 L948.41,436.91 L948.12,437.23 L947.82,437.44 L947.52,437.55 L947.22,437.54 L946.9,437.4 L946.57,437.12 L946.24,436.7 L945.91,436.15 L945.57,435.49 L945.22,434.73 L944.88,433.88 L944.54,432.97 L944.19,432.01 L943.85,431.02 L943.5,430 L943.15,428.93 L942.8,427.76 L942.44,426.51 L942.08,425.2 L941.73,423.85 L941.37,422.47 L941.02,421.08 L940.67,419.69 L940.33,418.33 L940,417 L939.68,415.66 L939.36,414.26 L939.04,412.82 L938.74,411.37 L938.43,409.94 L938.13,408.55 L937.84,407.24 L937.55,406.02 L937.27,404.94 L937,404 L936.74,403.21 L936.48,402.54 L936.24,401.98 L936.01,401.51 L935.78,401.12 L935.55,400.81 L935.32,400.55 L935.08,400.34 L934.85,400.16 L934.6,400 L934.35,399.88 L934.1,399.83 L933.85,399.84 L933.59,399.9 L933.34,400 L933.08,400.14 L932.82,400.32 L932.55,400.53 L932.28,400.76 L932,401 L931.72,401.26 L931.44,401.56 L931.16,401.88 L930.88,402.24 L930.59,402.62 L930.29,403.04 L929.99,403.49 L929.67,403.96 L929.34,404.46 L929,405 L928.64,405.61 L928.26,406.3 L927.86,407.07 L927.46,407.87 L927.04,408.68 L926.63,409.48 L926.21,410.24 L925.8,410.93 L925.39,411.53 L925,412 L924.63,412.42 L924.27,412.84 L923.92,413.24 L923.58,413.59 L923.23,413.87 L922.88,414.04 L922.52,414.07 L922.14,413.95 L921.73,413.63 L921.3,413.1 L920.83,412.27 L920.34,411.13 L919.81,409.74 L919.28,408.18 L918.72,406.51 L918.17,404.8 L917.61,403.13 L917.06,401.56 L916.52,400.16 L916,399 L915.5,398.03 L915.03,397.14 L914.57,396.33 L914.12,395.6 L913.66,394.94 L913.2,394.37 L912.72,393.87 L912.21,393.44 L911.68,393.08 L911.1,392.8 L910.47,392.62 L909.8,392.56 L909.09,392.6 L908.36,392.73 L907.61,392.91 L906.86,393.14 L906.11,393.38 L905.38,393.62 L904.67,393.83 L904,394 L903.35,394.16 L902.71,394.35 L902.09,394.55 L901.47,394.76 L900.86,394.98 L900.27,395.17 L899.7,395.34 L899.15,395.48 L898.61,395.57 L898.1,395.6 L897.63,395.58 L897.2,395.53 L896.8,395.45 L896.42,395.33 L896.06,395.18 L895.69,395 L895.31,394.79 L894.91,394.56 L894.48,394.29 L894,394 L893.48,393.66 L892.92,393.26 L892.33,392.82 L891.72,392.35 L891.09,391.85 L890.46,391.35 L889.83,390.85 L889.2,390.36 L888.59,389.91 L888,389.5 L887.42,389.1 L886.85,388.68 L886.28,388.26 L885.72,387.84 L885.16,387.45 L884.61,387.09 L884.05,386.79 L883.5,386.54 L882.95,386.38 L882.4,386.3 L881.85,386.32 L881.32,386.43 L880.78,386.62 L880.25,386.87 L879.72,387.17 L879.19,387.51 L878.66,387.87 L878.12,388.25 L877.56,388.63 L877,389 L876.42,389.39 L875.83,389.82 L875.22,390.29 L874.61,390.79 L873.99,391.29 L873.38,391.79 L872.77,392.27 L872.16,392.72 L871.57,393.14 L871,393.5 L870.45,393.82 L869.93,394.11 L869.43,394.38 L868.94,394.62 L868.46,394.84 L867.96,395.03 L867.44,395.21 L866.9,395.36 L866.32,395.49 L865.7,395.6 L865.01,395.68 L864.26,395.74 L863.46,395.76 L862.63,395.76 L861.79,395.74 L860.95,395.71 L860.14,395.67 L859.36,395.61 L858.64,395.56 L858,395.5 L857.43,395.41 L856.93,395.27 L856.47,395.09 L856.05,394.9 L855.66,394.71 L855.29,394.55 L854.91,394.42 L854.53,394.36 L854.13,394.38 L853.7,394.5 L853.25,394.72 L852.78,395.01 L852.32,395.38 L851.84,395.8 L851.37,396.27 L850.89,396.78 L850.42,397.32 L849.94,397.87 L849.47,398.44 L849,399 L848.54,399.59 L848.09,400.22 L847.64,400.88 L847.2,401.57 L846.75,402.28 L846.3,402.99 L845.84,403.7 L845.38,404.4 L844.9,405.06 L844.4,405.7 L843.89,406.31 L843.36,406.9 L842.83,407.49 L842.28,408.06 L841.73,408.63 L841.17,409.18 L840.61,409.72 L840.04,410.26 L839.47,410.78 L838.9,411.3 L838.32,411.8 L837.72,412.28 L837.11,412.75 L836.49,413.21 L835.88,413.66 L835.26,414.11 L834.66,414.56 L834.08,415.02 L833.53,415.5 L833,416 L832.49,416.54 L831.97,417.14 L831.46,417.76 L830.96,418.41 L830.48,419.04 L830.03,419.66 L829.62,420.23 L829.26,420.74 L828.95,421.17 L828.7,421.5 Z" fill="#000" stroke="#000" stroke-width="0.8"/>
<path d="M828.7,393.7 C831.17,393.55 837.95,392.65 843.5,392.8 C849.05,392.95 856.13,394.13 862,394.6 C867.87,395.07 874.07,394.98 878.7,395.6 C883.33,396.22 886.4,397.07 889.8,398.3 C893.2,399.53 896.02,400.98 899.1,403 C902.18,405.02 905.22,407.78 908.3,410.4 C911.38,413.02 914.82,416.23 917.6,418.7 C920.38,421.17 922.1,422.68 925,425.2 C927.9,427.72 930.82,430.35 935,433.8 C939.18,437.25 945.05,442.75 950.1,445.9 C955.15,449.05 960.25,451.95 965.3,452.7 C970.35,453.45 975.37,453.05 980.4,450.4 C985.43,447.75 990.47,441.83 995.5,436.8 C1000.53,431.77 1005.55,424.98 1010.6,420.2 C1015.65,415.42 1021,411.38 1025.8,408.1 C1030.6,404.82 1037.13,401.77 1039.4,400.5" fill="none" stroke="#8a8a8a" stroke-width="2.4" stroke-linejoin="round"/>
<path d="M828.7,393.7 C831.17,393.47 837.95,392.53 843.5,392.3 C849.05,392.07 857.25,392.85 862,392.3 C866.75,391.75 868.9,389.92 872,389 C875.1,388.08 877.63,386.63 880.6,386.8 C883.57,386.97 886.72,387.77 889.8,390 C892.88,392.23 896.02,396.5 899.1,400.2 C902.18,403.9 905.22,408.8 908.3,412.2 C911.38,415.6 914.82,417.67 917.6,420.6 C920.38,423.53 922.1,426.08 925,429.8 C927.9,433.52 930.82,438.2 935,442.9 C939.18,447.6 945.28,454.02 950.1,458 C954.92,461.98 958.85,466.8 963.9,466.8 C968.95,466.8 975.13,462.75 980.4,458 C985.67,453.25 990.47,444.85 995.5,438.3 C1000.53,431.75 1005.55,423.98 1010.6,418.7 C1015.65,413.42 1021,409.38 1025.8,406.6 C1030.6,403.82 1037.13,402.77 1039.4,402" fill="none" stroke="#8a8a8a" stroke-width="2.4" stroke-linejoin="round" stroke-dasharray="6,3.5"/>
<path d="M828.7,404.4 C831.17,404.23 839.18,404.18 843.5,403.4 C847.82,402.62 850.9,400.85 854.6,399.7 C858.3,398.55 862.62,398.27 865.7,396.5 C868.78,394.73 870.47,391.42 873.1,389.1 C875.73,386.78 878.72,382.92 881.5,382.6 C884.28,382.28 886.87,385.43 889.8,387.2 C892.73,388.97 895.85,392.42 899.1,393.2 C902.35,393.98 906.83,391.35 909.3,391.9 C911.77,392.45 912.22,393.27 913.9,396.5 C915.58,399.73 917.87,408.37 919.4,411.3 C920.93,414.23 921.67,415.15 923.1,414.1 C924.53,413.05 926.48,407.72 928,405 C929.52,402.28 930.87,396.63 932.2,397.8 C933.53,398.97 934.53,406.3 936,412 C937.47,417.7 939.65,427.87 941,432 C942.35,436.13 941.82,434.73 944.1,436.8 C946.38,438.87 951.17,444.9 954.7,444.4 C958.23,443.9 962.28,440.62 965.3,433.8 C968.32,426.98 970.42,415.85 972.8,403.5 C975.18,391.15 977.33,362.72 979.6,359.7 C981.87,356.68 984.25,378.85 986.4,385.4 C988.55,391.95 990.48,400.27 992.5,399 C994.52,397.73 996.73,385.62 998.5,377.8 C1000.27,369.98 1001.33,351.33 1003.1,352.1 C1004.87,352.87 1007.33,372.57 1009.1,382.4 C1010.87,392.23 1011.93,410.6 1013.7,411.1 C1015.47,411.6 1018.32,389.93 1019.7,385.4 C1021.08,380.87 1020.73,379.8 1022,383.9 C1023.27,388 1025.67,404.9 1027.3,410 C1028.93,415.1 1029.78,414.42 1031.8,414.5 C1033.82,414.58 1038.13,411.17 1039.4,410.5" fill="none" stroke="#ED1C24" stroke-width="2.2" stroke-linejoin="round"/>
<path d="M828.7,405.6 C831.17,405.5 839.18,405.6 843.5,405 C847.82,404.4 850.9,402.8 854.6,402 C858.3,401.2 862.62,401.43 865.7,400.2 C868.78,398.97 870.47,396.45 873.1,394.6 C875.73,392.75 878.72,389.4 881.5,389.1 C884.28,388.8 886.87,391.1 889.8,392.8 C892.73,394.5 895.85,398.07 899.1,399.3 C902.35,400.53 906.83,399.43 909.3,400.2 C911.77,400.97 911.9,400.5 913.9,403.9 C915.9,407.3 918.95,417.08 921.3,420.6 C923.65,424.12 926.22,426.43 928,425 C929.78,423.57 930.67,412.5 932,412 C933.33,411.5 933.98,417.37 936,422 C938.02,426.63 941.75,436.07 944.1,439.8 C946.45,443.53 947.08,443.38 950.1,444.4 C953.12,445.42 958.92,448.17 962.2,445.9 C965.48,443.63 966.77,436.35 969.8,430.8 C972.83,425.25 976.62,417.15 980.4,412.6 C984.18,408.05 989.48,408.03 992.5,403.5 C995.52,398.97 996.73,392.2 998.5,385.4 C1000.27,378.6 1001.33,362.2 1003.1,362.7 C1004.87,363.2 1007.08,380.83 1009.1,388.4 C1011.12,395.97 1013.18,407.33 1015.2,408.1 C1017.22,408.87 1019.18,393.52 1021.2,393 C1023.22,392.48 1024.27,403.17 1027.3,405 C1030.33,406.83 1037.38,404.17 1039.4,404" fill="none" stroke="#ED1C24" stroke-width="2.2" stroke-linejoin="round"/>
<path d="M828.7,406.5 C831.17,406.5 839.18,406.93 843.5,406.5 C847.82,406.07 850.9,404.73 854.6,403.9 C858.3,403.07 861.37,403.9 865.7,401.5 C870.03,399.1 876.58,390.58 880.6,389.5 C884.62,388.42 887.03,392.92 889.8,395 C892.57,397.08 894.12,399.28 897.2,402 C900.28,404.72 903.98,407.9 908.3,411.3 C912.62,414.7 918.65,418.45 923.1,422.4 C927.55,426.35 931.5,431.82 935,435 C938.5,438.18 939.32,439.18 944.1,441.5 C948.88,443.82 958.15,448.42 963.7,448.9 C969.25,449.38 973.1,447.93 977.4,444.4 C981.7,440.87 985.98,435.52 989.5,427.7 C993.02,419.88 996.23,408.78 998.5,397.5 C1000.77,386.22 1002.33,366.25 1003.1,360" fill="none" stroke="#ED1C24" stroke-width="2.2" stroke-linejoin="round"/>
<rect x="809.6" y="304.8" width="246.3" height="181.1" fill="none" stroke="#2a2a2a" stroke-width="1.9"/>
<text x="809.6" y="506.6" font-size="16.2" text-anchor="middle" fill="#111" >40</text>
<line x1="830.12" y1="485.9" x2="830.12" y2="483.2" stroke="#111" stroke-width="1.6"/>
<line x1="850.65" y1="485.9" x2="850.65" y2="481.4" stroke="#111" stroke-width="1.6"/>
<text x="850.65" y="506.6" font-size="16.2" text-anchor="middle" fill="#111" >50</text>
<line x1="871.18" y1="485.9" x2="871.18" y2="483.2" stroke="#111" stroke-width="1.6"/>
<line x1="891.7" y1="485.9" x2="891.7" y2="481.4" stroke="#111" stroke-width="1.6"/>
<text x="891.7" y="506.6" font-size="16.2" text-anchor="middle" fill="#111" >60</text>
<line x1="912.23" y1="485.9" x2="912.23" y2="483.2" stroke="#111" stroke-width="1.6"/>
<line x1="932.75" y1="485.9" x2="932.75" y2="481.4" stroke="#111" stroke-width="1.6"/>
<text x="932.75" y="506.6" font-size="16.2" text-anchor="middle" fill="#111" >70</text>
<line x1="953.28" y1="485.9" x2="953.28" y2="483.2" stroke="#111" stroke-width="1.6"/>
<line x1="973.8" y1="485.9" x2="973.8" y2="481.4" stroke="#111" stroke-width="1.6"/>
<text x="973.8" y="506.6" font-size="16.2" text-anchor="middle" fill="#111" >80</text>
<line x1="994.33" y1="485.9" x2="994.33" y2="483.2" stroke="#111" stroke-width="1.6"/>
<line x1="1014.85" y1="485.9" x2="1014.85" y2="481.4" stroke="#111" stroke-width="1.6"/>
<text x="1014.85" y="506.6" font-size="16.2" text-anchor="middle" fill="#111" >90</text>
<line x1="1035.38" y1="485.9" x2="1035.38" y2="483.2" stroke="#111" stroke-width="1.6"/>
<text x="1055.9" y="506.6" font-size="16.2" text-anchor="middle" fill="#111" >100</text>
<text x="801.5" y="491.1" font-size="16.2" text-anchor="end" fill="#111" >-2</text>
<line x1="809.6" y1="463.26" x2="812.3" y2="463.26" stroke="#111" stroke-width="1.6"/>
<line x1="809.6" y1="440.62" x2="814.1" y2="440.62" stroke="#111" stroke-width="1.6"/>
<text x="801.5" y="445.82" font-size="16.2" text-anchor="end" fill="#111" >-1</text>
<line x1="809.6" y1="417.99" x2="812.3" y2="417.99" stroke="#111" stroke-width="1.6"/>
<line x1="809.6" y1="395.35" x2="814.1" y2="395.35" stroke="#111" stroke-width="1.6"/>
<text x="801.5" y="400.55" font-size="16.2" text-anchor="end" fill="#111" >0</text>
<line x1="809.6" y1="372.71" x2="812.3" y2="372.71" stroke="#111" stroke-width="1.6"/>
<line x1="809.6" y1="350.07" x2="814.1" y2="350.07" stroke="#111" stroke-width="1.6"/>
<text x="801.5" y="355.27" font-size="16.2" text-anchor="end" fill="#111" >1</text>
<line x1="809.6" y1="327.44" x2="812.3" y2="327.44" stroke="#111" stroke-width="1.6"/>
<text x="801.5" y="310" font-size="16.2" text-anchor="end" fill="#111" >2</text>
<text x="0" y="0" font-size="17.5" text-anchor="middle" fill="#111" transform="translate(781.8,395.35) rotate(-90)">-dF/dT</text>
<text x="0" y="0" font-size="15" fill="#111" transform="translate(852,301.2) rotate(-45)">sY242</text>
<text x="0" y="0" font-size="15" fill="#111" transform="translate(882.5,301.2) rotate(-45)">ZFX/Y</text>
<text x="0" y="0" font-size="15" fill="#111" transform="translate(908.6,301.2) rotate(-45)">sY82</text>
<text x="0" y="0" font-size="15" fill="#111" transform="translate(935.9,301.2) rotate(-45)">sY86</text>
<text x="0" y="0" font-size="15" fill="#111" transform="translate(957.3,301.2) rotate(-45)">sY152</text>
<text x="0" y="0" font-size="15" fill="#111" transform="translate(978.9,301.2) rotate(-45)">sY145</text>
<text x="0" y="0" font-size="15" fill="#111" transform="translate(1001.9,301.2) rotate(-45)">SRY</text>
<text x="0" y="0" font-size="15" fill="#111" transform="translate(1022.5,301.2) rotate(-45)">sY84</text>
<line x1="857.5" y1="557.5" x2="857.5" y2="739" stroke="#5e5e5e" stroke-width="1.1"/>
<line x1="895.5" y1="557.5" x2="895.5" y2="739" stroke="#5e5e5e" stroke-width="1.1"/>
<line x1="923.5" y1="557.5" x2="923.5" y2="739" stroke="#5e5e5e" stroke-width="1.1"/>
<line x1="949" y1="557.5" x2="949" y2="739" stroke="#5e5e5e" stroke-width="1.1"/>
<line x1="971" y1="557.5" x2="971" y2="739" stroke="#5e5e5e" stroke-width="1.1"/>
<line x1="996.5" y1="557.5" x2="996.5" y2="739" stroke="#5e5e5e" stroke-width="1.1"/>
<path d="M829.1,668 L829.44,666.9 L829.87,665.46 L830.38,663.74 L830.95,661.82 L831.57,659.76 L832.23,657.65 L832.91,655.54 L833.61,653.52 L834.31,651.65 L835,650 L835.7,648.53 L836.43,647.15 L837.19,645.84 L837.97,644.59 L838.76,643.39 L839.56,642.23 L840.36,641.1 L841.16,639.99 L841.94,638.9 L842.7,637.8 L843.45,636.7 L844.19,635.61 L844.93,634.54 L845.66,633.49 L846.39,632.47 L847.11,631.48 L847.84,630.53 L848.56,629.63 L849.28,628.79 L850,628 L850.71,627.23 L851.42,626.45 L852.12,625.68 L852.82,624.95 L853.51,624.28 L854.21,623.7 L854.92,623.22 L855.63,622.88 L856.36,622.7 L857.1,622.7 L857.86,622.93 L858.63,623.37 L859.41,624 L860.2,624.78 L860.99,625.64 L861.79,626.57 L862.6,627.51 L863.4,628.42 L864.2,629.27 L865,630 L865.8,630.69 L866.61,631.41 L867.42,632.15 L868.24,632.88 L869.06,633.58 L869.87,634.24 L870.67,634.83 L871.46,635.33 L872.24,635.73 L873,636 L873.74,636.15 L874.46,636.21 L875.17,636.18 L875.87,636.06 L876.56,635.88 L877.25,635.62 L877.93,635.29 L878.62,634.91 L879.3,634.48 L880,634 L880.7,633.44 L881.39,632.76 L882.07,631.99 L882.76,631.16 L883.44,630.28 L884.14,629.38 L884.83,628.48 L885.54,627.6 L886.26,626.77 L887,626 L887.76,625.22 L888.54,624.36 L889.33,623.47 L890.13,622.57 L890.94,621.72 L891.75,620.95 L892.56,620.3 L893.36,619.82 L894.14,619.54 L894.9,619.5 L895.65,619.73 L896.39,620.18 L897.12,620.84 L897.85,621.65 L898.57,622.59 L899.28,623.63 L899.98,624.72 L900.66,625.84 L901.34,626.94 L902,628 L902.66,629.09 L903.31,630.31 L903.96,631.6 L904.6,632.94 L905.23,634.29 L905.83,635.62 L906.42,636.89 L906.98,638.06 L907.51,639.11 L908,640 L908.44,640.78 L908.83,641.52 L909.17,642.2 L909.48,642.81 L909.78,643.32 L910.08,643.72 L910.38,644 L910.71,644.13 L911.08,644.11 L911.5,643.9 L911.96,643.46 L912.45,642.78 L912.97,641.89 L913.5,640.86 L914.06,639.71 L914.62,638.51 L915.21,637.29 L915.8,636.1 L916.4,634.99 L917,634 L917.62,633 L918.27,631.88 L918.94,630.68 L919.62,629.48 L920.31,628.34 L920.99,627.32 L921.67,626.48 L922.34,625.89 L922.98,625.61 L923.6,625.7 L924.2,626.23 L924.8,627.18 L925.38,628.46 L925.96,630 L926.53,631.71 L927.07,633.5 L927.59,635.31 L928.09,637.05 L928.56,638.64 L929,640 L929.39,641.19 L929.73,642.32 L930.03,643.39 L930.3,644.43 L930.56,645.42 L930.81,646.39 L931.07,647.32 L931.34,648.23 L931.65,649.12 L932,650 L932.39,650.9 L932.82,651.82 L933.27,652.75 L933.74,653.66 L934.22,654.53 L934.7,655.34 L935.18,656.06 L935.64,656.68 L936.08,657.17 L936.5,657.5 L936.89,657.67 L937.25,657.7 L937.59,657.61 L937.92,657.41 L938.25,657.12 L938.58,656.77 L938.91,656.36 L939.25,655.92 L939.61,655.46 L940,655 L940.41,654.5 L940.82,653.9 L941.25,653.24 L941.69,652.52 L942.14,651.79 L942.6,651.05 L943.07,650.33 L943.54,649.65 L944.02,649.03 L944.5,648.5 L944.99,648.02 L945.49,647.54 L946.01,647.08 L946.52,646.65 L947.05,646.26 L947.58,645.92 L948.11,645.66 L948.64,645.47 L949.17,645.38 L949.7,645.4 L950.22,645.54 L950.75,645.8 L951.27,646.17 L951.8,646.62 L952.33,647.13 L952.85,647.69 L953.38,648.27 L953.92,648.87 L954.46,649.45 L955,650 L955.55,650.6 L956.1,651.3 L956.66,652.08 L957.23,652.88 L957.79,653.66 L958.36,654.4 L958.93,655.04 L959.49,655.55 L960.05,655.88 L960.6,656 L961.15,655.89 L961.7,655.58 L962.25,655.1 L962.79,654.49 L963.34,653.78 L963.88,653.01 L964.42,652.21 L964.95,651.42 L965.48,650.67 L966,650 L966.52,649.31 L967.03,648.52 L967.53,647.68 L968.03,646.81 L968.52,645.97 L969.02,645.19 L969.51,644.51 L970.01,643.98 L970.5,643.63 L971,643.5 L971.5,643.59 L972,643.85 L972.5,644.26 L973,644.8 L973.5,645.47 L974,646.24 L974.5,647.09 L975,648.01 L975.5,648.99 L976,650 L976.5,651.13 L977.01,652.43 L977.52,653.87 L978.03,655.4 L978.54,656.97 L979.05,658.54 L979.55,660.08 L980.04,661.53 L980.53,662.85 L981,664 L981.46,665.05 L981.9,666.07 L982.33,667.06 L982.75,667.98 L983.17,668.81 L983.58,669.54 L984,670.15 L984.43,670.61 L984.86,670.9 L985.3,671 L985.76,670.91 L986.23,670.64 L986.72,670.21 L987.21,669.64 L987.7,668.94 L988.19,668.12 L988.67,667.2 L989.13,666.2 L989.58,665.13 L990,664 L990.4,662.73 L990.78,661.24 L991.14,659.59 L991.5,657.84 L991.84,656.03 L992.17,654.22 L992.5,652.46 L992.83,650.8 L993.16,649.3 L993.5,648 L993.84,646.85 L994.17,645.75 L994.51,644.72 L994.84,643.76 L995.17,642.91 L995.5,642.16 L995.82,641.53 L996.15,641.03 L996.47,640.69 L996.8,640.5 L997.12,640.49 L997.45,640.63 L997.77,640.93 L998.1,641.36 L998.42,641.91 L998.74,642.56 L999.06,643.32 L999.37,644.15 L999.69,645.05 L1000,646 L1000.31,647.08 L1000.61,648.34 L1000.91,649.75 L1001.21,651.25 L1001.51,652.81 L1001.81,654.39 L1002.11,655.94 L1002.4,657.42 L1002.7,658.78 L1003,660 L1003.27,661.12 L1003.5,662.21 L1003.71,663.27 L1003.91,664.28 L1004.12,665.22 L1004.37,666.08 L1004.66,666.86 L1005.02,667.53 L1005.46,668.08 L1006,668.5 L1006.65,668.76 L1007.4,668.85 L1008.23,668.8 L1009.12,668.64 L1010.06,668.41 L1011.04,668.12 L1012.04,667.8 L1013.04,667.49 L1014.03,667.22 L1015,667 L1015.94,666.82 L1016.85,666.62 L1017.76,666.42 L1018.67,666.21 L1019.6,666 L1020.56,665.79 L1021.57,665.58 L1022.64,665.38 L1023.78,665.18 L1025,665 L1026.39,664.82 L1027.98,664.64 L1029.71,664.47 L1031.51,664.29 L1033.33,664.12 L1035.09,663.97 L1036.74,663.82 L1038.22,663.7 L1039.46,663.59 L1040.4,663.5 L1040.4,670.3 L1039.46,670.4 L1038.22,670.52 L1036.74,670.66 L1035.09,670.82 L1033.33,670.99 L1031.51,671.18 L1029.71,671.38 L1027.98,671.58 L1026.39,671.79 L1025,672 L1023.77,672.22 L1022.6,672.44 L1021.5,672.68 L1020.45,672.92 L1019.46,673.17 L1018.5,673.43 L1017.59,673.7 L1016.7,673.96 L1015.84,674.23 L1015,674.5 L1014.18,674.79 L1013.38,675.12 L1012.62,675.46 L1011.89,675.81 L1011.19,676.16 L1010.53,676.49 L1009.91,676.8 L1009.33,677.06 L1008.79,677.26 L1008.3,677.4 L1007.88,677.48 L1007.53,677.54 L1007.26,677.55 L1007.02,677.53 L1006.82,677.47 L1006.62,677.37 L1006.42,677.23 L1006.2,677.04 L1005.93,676.79 L1005.6,676.5 L1005.22,676.13 L1004.8,675.66 L1004.35,675.12 L1003.88,674.53 L1003.39,673.9 L1002.9,673.26 L1002.41,672.63 L1001.92,672.03 L1001.45,671.48 L1001,671 L1000.57,670.52 L1000.16,670 L999.76,669.45 L999.37,668.92 L998.97,668.43 L998.58,668.01 L998.16,667.69 L997.74,667.52 L997.28,667.51 L996.8,667.7 L996.28,668.14 L995.74,668.83 L995.17,669.71 L994.59,670.73 L993.99,671.84 L993.39,673 L992.78,674.14 L992.18,675.23 L991.58,676.2 L991,677 L990.44,677.71 L989.9,678.4 L989.36,679.07 L988.84,679.7 L988.31,680.28 L987.76,680.79 L987.2,681.21 L986.6,681.53 L985.97,681.73 L985.3,681.8 L984.56,681.71 L983.77,681.47 L982.92,681.1 L982.05,680.62 L981.16,680.06 L980.26,679.45 L979.39,678.82 L978.54,678.18 L977.74,677.56 L977,677 L976.32,676.43 L975.67,675.78 L975.06,675.09 L974.47,674.39 L973.91,673.69 L973.36,673.02 L972.82,672.41 L972.28,671.89 L971.74,671.48 L971.2,671.2 L970.66,671.07 L970.12,671.08 L969.6,671.18 L969.09,671.38 L968.57,671.63 L968.07,671.92 L967.56,672.23 L967.04,672.52 L966.53,672.79 L966,673 L965.47,673.18 L964.94,673.38 L964.4,673.59 L963.86,673.8 L963.33,674.01 L962.78,674.2 L962.24,674.37 L961.7,674.52 L961.15,674.63 L960.6,674.7 L960.05,674.73 L959.49,674.73 L958.93,674.69 L958.36,674.63 L957.79,674.55 L957.23,674.45 L956.66,674.34 L956.1,674.23 L955.55,674.11 L955,674 L954.46,673.86 L953.94,673.69 L953.43,673.48 L952.93,673.27 L952.42,673.05 L951.91,672.85 L951.38,672.68 L950.84,672.56 L950.29,672.49 L949.7,672.5 L949.08,672.58 L948.43,672.73 L947.75,672.93 L947.05,673.17 L946.35,673.45 L945.65,673.75 L944.95,674.07 L944.27,674.38 L943.62,674.7 L943,675 L942.42,675.34 L941.86,675.76 L941.32,676.23 L940.8,676.72 L940.29,677.2 L939.78,677.63 L939.28,677.99 L938.76,678.24 L938.24,678.36 L937.7,678.3 L937.13,678.06 L936.54,677.65 L935.93,677.11 L935.32,676.46 L934.71,675.73 L934.1,674.96 L933.52,674.17 L932.97,673.39 L932.46,672.66 L932,672 L931.6,671.4 L931.27,670.83 L930.98,670.27 L930.72,669.72 L930.48,669.17 L930.24,668.6 L929.99,668.01 L929.71,667.39 L929.39,666.72 L929,666 L928.56,665.16 L928.08,664.17 L927.56,663.08 L927.02,661.94 L926.46,660.81 L925.89,659.74 L925.31,658.77 L924.73,657.95 L924.16,657.35 L923.6,657 L923.04,656.94 L922.48,657.12 L921.91,657.5 L921.33,658.03 L920.76,658.67 L920.18,659.39 L919.62,660.12 L919.07,660.83 L918.52,661.47 L918,662 L917.5,662.48 L917.01,662.99 L916.54,663.52 L916.08,664.04 L915.63,664.55 L915.18,665.02 L914.73,665.44 L914.26,665.78 L913.79,666.04 L913.3,666.2 L912.8,666.26 L912.29,666.25 L911.78,666.16 L911.26,666.01 L910.73,665.8 L910.2,665.53 L909.66,665.21 L909.11,664.85 L908.56,664.44 L908,664 L907.43,663.49 L906.86,662.9 L906.29,662.24 L905.7,661.53 L905.11,660.77 L904.51,660 L903.9,659.22 L903.28,658.45 L902.65,657.71 L902,657 L901.34,656.28 L900.66,655.52 L899.98,654.72 L899.28,653.91 L898.57,653.13 L897.85,652.39 L897.12,651.73 L896.39,651.16 L895.65,650.71 L894.9,650.4 L894.14,650.26 L893.36,650.26 L892.56,650.38 L891.75,650.59 L890.94,650.88 L890.13,651.21 L889.33,651.57 L888.54,651.92 L887.76,652.23 L887,652.5 L886.26,652.74 L885.54,653.01 L884.83,653.28 L884.14,653.57 L883.44,653.85 L882.76,654.12 L882.07,654.38 L881.39,654.62 L880.7,654.83 L880,655 L879.3,655.15 L878.62,655.28 L877.93,655.41 L877.25,655.51 L876.56,655.59 L875.87,655.65 L875.17,655.67 L874.46,655.66 L873.74,655.6 L873,655.5 L872.24,655.35 L871.46,655.14 L870.67,654.89 L869.87,654.6 L869.06,654.29 L868.24,653.95 L867.42,653.59 L866.61,653.23 L865.8,652.86 L865,652.5 L864.2,652.1 L863.4,651.63 L862.6,651.11 L861.79,650.57 L860.99,650.04 L860.2,649.54 L859.41,649.1 L858.63,648.74 L857.86,648.5 L857.1,648.4 L856.36,648.42 L855.63,648.54 L854.92,648.74 L854.21,649.03 L853.51,649.38 L852.82,649.8 L852.12,650.28 L851.42,650.81 L850.71,651.39 L850,652 L849.28,652.65 L848.56,653.36 L847.84,654.11 L847.11,654.92 L846.39,655.79 L845.66,656.71 L844.93,657.69 L844.19,658.73 L843.45,659.83 L842.7,661 L841.94,662.26 L841.16,663.64 L840.36,665.11 L839.56,666.64 L838.76,668.22 L837.97,669.82 L837.19,671.42 L836.43,673 L835.7,674.53 L835,676 L834.31,677.47 L833.61,679.01 L832.91,680.59 L832.23,682.16 L831.57,683.69 L830.95,685.14 L830.38,686.49 L829.87,687.69 L829.44,688.7 L829.1,689.5 Z" fill="#000" stroke="#000" stroke-width="0.8"/>
<path d="M829.1,665.6 C831.25,666.05 837.47,667.37 842,668.3 C846.53,669.23 851.97,670 856.3,671.2 C860.63,672.4 863.97,673.87 868,675.5 C872.03,677.13 875.9,678.67 880.5,681 C885.1,683.33 890.68,686.83 895.6,689.5 C900.52,692.17 904.95,694.77 910,697 C915.05,699.23 920.98,701.92 925.9,702.9 C930.82,703.88 935.53,703.42 939.5,702.9 C943.47,702.38 946.28,700.7 949.7,699.8 C953.12,698.9 956.48,698.37 960,697.5 C963.52,696.63 966.97,696.02 970.8,694.6 C974.63,693.18 978.7,691.15 983,689 C987.3,686.85 992.43,684.37 996.6,681.7 C1000.77,679.03 1003.97,675.52 1008,673 C1012.03,670.48 1017.13,668.02 1020.8,666.6 C1024.47,665.18 1026.73,665.02 1030,664.5 C1033.27,663.98 1038.67,663.67 1040.4,663.5" fill="none" stroke="#8a8a8a" stroke-width="2.4" stroke-linejoin="round"/>
<path d="M829.1,664.7 C831.25,665.15 837.47,666.47 842,667.4 C846.53,668.33 851.97,669.1 856.3,670.3 C860.63,671.5 863.97,672.97 868,674.6 C872.03,676.23 875.9,677.77 880.5,680.1 C885.1,682.43 890.68,685.93 895.6,688.6 C900.52,691.27 904.95,693.87 910,696.1 C915.05,698.33 920.98,701.02 925.9,702 C930.82,702.98 935.53,702.52 939.5,702 C943.47,701.48 946.28,699.8 949.7,698.9 C953.12,698 956.48,697.47 960,696.6 C963.52,695.73 966.97,695.12 970.8,693.7 C974.63,692.28 978.7,690.25 983,688.1 C987.3,685.95 992.43,683.47 996.6,680.8 C1000.77,678.13 1003.97,674.62 1008,672.1 C1012.03,669.58 1017.13,667.12 1020.8,665.7 C1024.47,664.28 1026.73,664.12 1030,663.6 C1033.27,663.08 1038.67,662.77 1040.4,662.6" fill="none" stroke="#8a8a8a" stroke-width="2.2" stroke-linejoin="round" stroke-dasharray="5,3"/>
<path d="M829.1,689.3 C830.08,685.75 832.73,674.88 835,668 C837.27,661.12 840.2,654.67 842.7,648 C845.2,641.33 847.73,633.1 850,628 C852.27,622.9 854.3,618.4 856.3,617.4 C858.3,616.4 860.05,619.57 862,622 C863.95,624.43 866.17,629.73 868,632 C869.83,634.27 870.92,634.88 873,635.6 C875.08,636.32 878.17,637.73 880.5,636.3 C882.83,634.87 884.68,630.65 887,627 C889.32,623.35 892.4,615.23 894.4,614.4 C896.4,613.57 897.23,616.9 899,622 C900.77,627.1 902.87,638.08 905,645 C907.13,651.92 909.63,658.33 911.8,663.5 C913.97,668.67 915.73,672.47 918,676 C920.27,679.53 923.4,684.03 925.4,684.7 C927.4,685.37 928.48,682.02 930,680 C931.52,677.98 932.83,675.6 934.5,672.6 C936.17,669.6 938.33,665.6 940,662 C941.67,658.4 943.33,653.5 944.5,651 C945.67,648.5 946.15,647.93 947,647 C947.85,646.07 948.68,645.4 949.6,645.4 C950.52,645.4 951.43,645.98 952.5,647 C953.57,648.02 954.65,650.08 956,651.5 C957.35,652.92 959.1,655.58 960.6,655.5 C962.1,655.42 963.72,652.67 965,651 C966.28,649.33 967.3,646.75 968.3,645.5 C969.3,644.25 970.1,643.5 971,643.5 C971.9,643.5 972.7,643.92 973.7,645.5 C974.7,647.08 975.78,649.75 977,653 C978.22,656.25 979.62,661.92 981,665 C982.38,668.08 983.97,671.33 985.3,671.5 C986.63,671.67 987.8,669.25 989,666 C990.2,662.75 991.5,655.83 992.5,652 C993.5,648.17 994.28,644.95 995,643 C995.72,641.05 996.2,640.3 996.8,640.3 C997.4,640.3 997.9,641.05 998.6,643 C999.3,644.95 1000.1,648.33 1001,652 C1001.9,655.67 1003.08,661.92 1004,665 C1004.92,668.08 1005.17,669.83 1006.5,670.5 C1007.83,671.17 1009.75,669.75 1012,669 C1014.25,668.25 1017,667.08 1020,666 C1023,664.92 1026.6,663.53 1030,662.5 C1033.4,661.47 1038.67,660.25 1040.4,659.8" fill="none" stroke="#7E3F98" stroke-width="2.2" stroke-linejoin="round"/>
<path d="M829.1,651.7 C831.42,651.83 838.47,652.18 843,652.5 C847.53,652.82 852.13,652.77 856.3,653.6 C860.47,654.43 863.97,655.93 868,657.5 C872.03,659.07 875.98,660.92 880.5,663 C885.02,665.08 891.35,668.25 895.1,670 C898.85,671.75 900.98,672.93 903,673.5 C905.02,674.07 905.87,674.82 907.2,673.4 C908.53,671.98 909.73,668.4 911,665 C912.27,661.6 913.47,657.5 914.8,653 C916.13,648.5 917.62,641.92 919,638 C920.38,634.08 921.85,629.17 923.1,629.5 C924.35,629.83 925.37,635.33 926.5,640 C927.63,644.67 928.32,650.05 929.9,657.5 C931.48,664.95 933.73,677.9 936,684.7 C938.27,691.5 941.22,695.78 943.5,698.3 C945.78,700.82 946.95,699.42 949.7,699.8 C952.45,700.18 956.48,700.85 960,700.6 C963.52,700.35 966.97,699.73 970.8,698.3 C974.63,696.87 978.7,694.27 983,692 C987.3,689.73 992.43,688.03 996.6,684.7 C1000.77,681.37 1003.97,676.03 1008,672 C1012.03,667.97 1017.13,663.33 1020.8,660.5 C1024.47,657.67 1026.73,656.63 1030,655 C1033.27,653.37 1038.67,651.42 1040.4,650.7" fill="none" stroke="#7E3F98" stroke-width="2.2" stroke-linejoin="round"/>
<path d="M829.1,658.6 C831.25,658.83 837.47,659.47 842,660 C846.53,660.53 851.97,660.55 856.3,661.8 C860.63,663.05 864.82,665.62 868,667.5 C871.18,669.38 872.57,671.02 875.4,673.1 C878.23,675.18 881.73,677.68 885,680 C888.27,682.32 890.78,684.08 895,687 C899.22,689.92 905.23,694.35 910.3,697.5 C915.37,700.65 920.37,704.37 925.4,705.9 C930.43,707.43 935.57,706.48 940.5,706.7 C945.43,706.92 950.45,707.08 955,707.2 C959.55,707.32 963.63,708.6 967.8,707.4 C971.97,706.2 976.22,702.27 980,700 C983.78,697.73 986.23,697.6 990.5,693.8 C994.77,690 1000.68,681.67 1005.6,677.2 C1010.52,672.73 1014.2,669.78 1020,667 C1025.8,664.22 1037,661.58 1040.4,660.5" fill="none" stroke="#7E3F98" stroke-width="2.2" stroke-linejoin="round"/>
<path d="M829.1,664.3 C831.25,664.67 837.47,665.65 842,666.5 C846.53,667.35 851.97,668.07 856.3,669.4 C860.63,670.73 864.82,673.07 868,674.5 C871.18,675.93 872.57,676.42 875.4,678 C878.23,679.58 881.73,682 885,684 C888.27,686 890.78,687.5 895,690 C899.22,692.5 905.23,696.6 910.3,699 C915.37,701.4 921.28,703.57 925.4,704.4 C929.52,705.23 930.95,704.77 935,704 C939.05,703.23 945.53,700.72 949.7,699.8 C953.87,698.88 956.48,698.97 960,698.5 C963.52,698.03 966.97,698.42 970.8,697 C974.63,695.58 978.7,692.33 983,690 C987.3,687.67 992.1,686.17 996.6,683 C1001.1,679.83 1005.27,674.17 1010,671 C1014.73,667.83 1019.93,665.58 1025,664 C1030.07,662.42 1037.83,661.92 1040.4,661.5" fill="none" stroke="#7E3F98" stroke-width="2.2" stroke-linejoin="round"/>
<rect x="809.3" y="557.5" width="246.6" height="181.5" fill="none" stroke="#2a2a2a" stroke-width="1.9"/>
<text x="809.3" y="756.9" font-size="16.2" text-anchor="middle" fill="#111" >40</text>
<line x1="829.85" y1="739" x2="829.85" y2="736.3" stroke="#111" stroke-width="1.6"/>
<line x1="850.4" y1="739" x2="850.4" y2="734.5" stroke="#111" stroke-width="1.6"/>
<text x="850.4" y="756.9" font-size="16.2" text-anchor="middle" fill="#111" >50</text>
<line x1="870.95" y1="739" x2="870.95" y2="736.3" stroke="#111" stroke-width="1.6"/>
<line x1="891.5" y1="739" x2="891.5" y2="734.5" stroke="#111" stroke-width="1.6"/>
<text x="891.5" y="756.9" font-size="16.2" text-anchor="middle" fill="#111" >60</text>
<line x1="912.05" y1="739" x2="912.05" y2="736.3" stroke="#111" stroke-width="1.6"/>
<line x1="932.6" y1="739" x2="932.6" y2="734.5" stroke="#111" stroke-width="1.6"/>
<text x="932.6" y="756.9" font-size="16.2" text-anchor="middle" fill="#111" >70</text>
<line x1="953.15" y1="739" x2="953.15" y2="736.3" stroke="#111" stroke-width="1.6"/>
<line x1="973.7" y1="739" x2="973.7" y2="734.5" stroke="#111" stroke-width="1.6"/>
<text x="973.7" y="756.9" font-size="16.2" text-anchor="middle" fill="#111" >80</text>
<line x1="994.25" y1="739" x2="994.25" y2="736.3" stroke="#111" stroke-width="1.6"/>
<line x1="1014.8" y1="739" x2="1014.8" y2="734.5" stroke="#111" stroke-width="1.6"/>
<text x="1014.8" y="756.9" font-size="16.2" text-anchor="middle" fill="#111" >90</text>
<line x1="1035.35" y1="739" x2="1035.35" y2="736.3" stroke="#111" stroke-width="1.6"/>
<text x="1058.3" y="756.9" font-size="16.2" text-anchor="middle" fill="#111" >100</text>
<text x="801.5" y="744.2" font-size="16.2" text-anchor="end" fill="#111" >-1</text>
<line x1="809.3" y1="708.75" x2="812" y2="708.75" stroke="#111" stroke-width="1.6"/>
<line x1="809.3" y1="678.5" x2="813.8" y2="678.5" stroke="#111" stroke-width="1.6"/>
<text x="801.5" y="683.7" font-size="16.2" text-anchor="end" fill="#111" >0</text>
<line x1="809.3" y1="648.25" x2="812" y2="648.25" stroke="#111" stroke-width="1.6"/>
<line x1="809.3" y1="618" x2="813.8" y2="618" stroke="#111" stroke-width="1.6"/>
<text x="801.5" y="623.2" font-size="16.2" text-anchor="end" fill="#111" >1</text>
<line x1="809.3" y1="587.75" x2="812" y2="587.75" stroke="#111" stroke-width="1.6"/>
<text x="801.5" y="562.7" font-size="16.2" text-anchor="end" fill="#111" >2</text>
<text x="0" y="0" font-size="17.5" text-anchor="middle" fill="#111" transform="translate(781.8,650.55) rotate(-90)">-dF/dT</text>
<text x="0" y="0" font-size="15" fill="#111" transform="translate(854.8,553.9) rotate(-45)">sY155</text>
<text x="0" y="0" font-size="15" fill="#111" transform="translate(894.2,553.9) rotate(-45)">sY154</text>
<text x="0" y="0" font-size="15" fill="#111" transform="translate(924,553.9) rotate(-45)">sY157</text>
<text x="0" y="0" font-size="15" fill="#111" transform="translate(948.1,553.9) rotate(-45)">sY254</text>
<text x="0" y="0" font-size="15" fill="#111" transform="translate(970.9,553.9) rotate(-45)">sY239</text>
<text x="0" y="0" font-size="15" fill="#111" transform="translate(996.2,553.9) rotate(-45)">sY255</text>
<text x="866.3" y="776.3" font-size="17.8" text-anchor="start" fill="#111" >Temperature (°C)</text>
</svg></body></html>
